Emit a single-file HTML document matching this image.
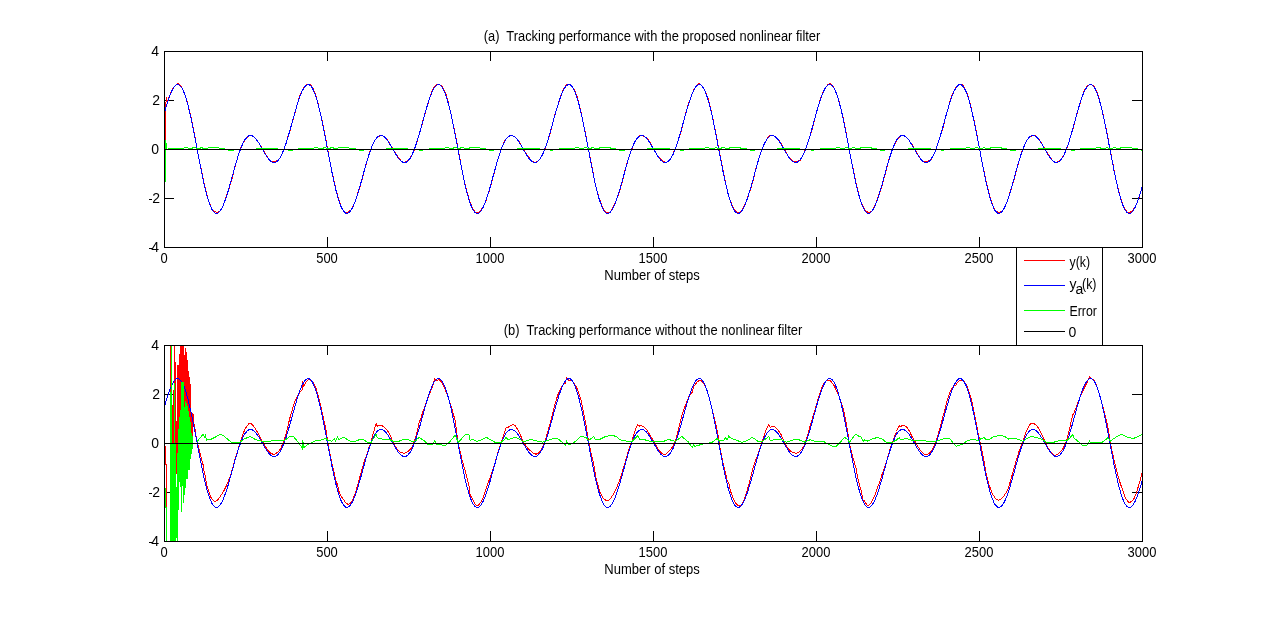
<!DOCTYPE html>
<html><head><meta charset="utf-8"><style>
html,body{margin:0;padding:0;background:#fff;overflow:hidden;}
svg{display:block;}
text{font-family:"Liberation Sans",sans-serif;font-size:14px;fill:#000;white-space:pre;}
svg{will-change:transform;}
</style></head><body>
<svg width="1262" height="620" viewBox="0 0 1262 620">
<rect width="1262" height="620" fill="#fff"/>
<defs>
<clipPath id="ct"><rect x="164" y="51" width="979" height="197"/></clipPath>
<clipPath id="cb"><rect x="164" y="345" width="979" height="197"/></clipPath>
</defs>

<g fill="#000" shape-rendering="crispEdges">
<rect x="164" y="51" width="1" height="10"/><rect x="164" y="237" width="1" height="11"/>
<rect x="327" y="51" width="1" height="10"/><rect x="327" y="237" width="1" height="11"/>
<rect x="490" y="51" width="1" height="10"/><rect x="490" y="237" width="1" height="11"/>
<rect x="653" y="51" width="1" height="10"/><rect x="653" y="237" width="1" height="11"/>
<rect x="816" y="51" width="1" height="10"/><rect x="816" y="237" width="1" height="11"/>
<rect x="979" y="51" width="1" height="10"/><rect x="979" y="237" width="1" height="11"/>
<rect x="1142" y="51" width="1" height="10"/><rect x="1142" y="237" width="1" height="11"/>
<rect x="164" y="51" width="10" height="1"/><rect x="1132" y="51" width="11" height="1"/>
<rect x="164" y="100" width="10" height="1"/><rect x="1132" y="100" width="11" height="1"/>
<rect x="164" y="149" width="10" height="1"/><rect x="1132" y="149" width="11" height="1"/>
<rect x="164" y="198" width="10" height="1"/><rect x="1132" y="198" width="11" height="1"/>
<rect x="164" y="247" width="10" height="1"/><rect x="1132" y="247" width="11" height="1"/>
</g>
<g clip-path="url(#ct)" fill="none" stroke-width="1" shape-rendering="crispEdges">
<g fill="#f00" shape-rendering="crispEdges"><rect x="165" y="102" width="1" height="41"/><rect x="166" y="97" width="1" height="5"/></g>
<path stroke="#f00" d="M165.5 108.8L166.5 105.4L167.4 102.2L168.4 98.8L169.4 96.1L170.4 93.8L171.3 91.6L172.3 89.8L173.3 88.1L174.3 86.7L175.3 85.5L176.2 84.6L177.2 84.0L178.2 83.9L179.2 84.2L180.1 85.0L181.1 86.2L182.1 87.9L183.1 90.0L184.1 92.0L185.0 94.8L186.0 97.8L187.0 101.0L188.0 104.9L188.9 108.6L189.9 112.6L190.9 116.9L191.9 121.5L192.9 126.3L193.8 130.9L194.8 136.1L195.8 141.9L196.8 147.2L197.8 152.4L198.7 157.5L199.7 162.4L200.7 166.8L201.7 171.5L202.6 176.1L203.6 181.0L204.6 185.4L205.6 189.6L206.6 193.6L207.5 197.3L208.5 200.2L209.5 203.1L210.5 205.6L211.4 207.6L212.4 209.3L213.4 210.5L214.4 211.4L215.4 211.9L216.3 212.2L217.3 212.2L218.3 211.9L219.3 211.6L220.2 210.6L221.2 209.2L222.2 207.4L223.2 205.2L224.2 202.6L225.1 200.2L226.1 197.2L227.1 194.1L228.1 190.9L229.0 188.5L230.0 185.2L231.0 181.9L232.0 178.5L233.0 175.1L233.9 170.7L234.9 167.1L235.9 163.6L236.9 160.1L237.8 156.8L238.8 153.6L239.8 150.7L240.8 148.1L241.8 145.8L242.7 143.8L243.7 142.0L244.7 140.4L245.7 139.1L246.7 137.9L247.6 136.8L248.6 136.0L249.6 135.5L250.6 135.2L251.5 135.3L252.5 135.7L253.5 136.4L254.5 137.3L255.5 138.5L256.4 139.4L257.4 140.8L258.4 142.3L259.4 143.8L260.3 145.3L261.3 146.8L262.3 148.3L263.3 149.9L264.3 151.6L265.2 153.3L266.2 155.0L267.2 156.7L268.2 158.2L269.1 159.5L270.1 160.5L271.1 161.3L272.1 161.7L273.1 161.9L274.0 161.9L275.0 161.6L276.0 161.2L277.0 160.6L277.9 160.3L278.9 159.3L279.9 158.0L280.9 156.5L281.9 154.6L282.8 152.3L283.8 149.8L284.8 147.0L285.8 144.0L286.8 140.8L287.7 137.5L288.7 134.2L289.7 131.8L290.7 128.5L291.6 125.1L292.6 120.9L293.6 117.4L294.6 113.9L295.6 110.4L296.5 106.9L297.5 103.5L298.5 100.3L299.5 96.9L300.4 94.3L301.4 91.9L302.4 90.0L303.4 88.3L304.4 87.0L305.3 85.9L306.3 85.1L307.3 84.6L308.3 84.3L309.2 84.4L310.2 84.9L311.2 85.8L312.2 87.1L313.2 88.9L314.1 91.2L315.1 93.5L316.1 96.5L317.1 99.9L318.0 103.5L319.0 107.7L320.0 111.6L321.0 115.8L322.0 120.1L322.9 124.7L323.9 129.1L324.9 134.1L325.9 139.3L326.8 145.0L327.8 150.4L328.8 155.7L329.8 160.9L330.8 165.5L331.7 170.4L332.7 175.0L333.7 179.8L334.7 184.1L335.6 188.1L336.6 192.0L337.6 195.7L338.6 199.1L339.6 201.8L340.5 204.7L341.5 207.1L342.5 209.0L343.5 210.5L344.5 211.5L345.4 212.1L346.4 212.3L347.4 212.2L348.4 211.8L349.3 211.1L350.3 210.6L351.3 209.4L352.3 207.8L353.3 205.9L354.2 203.7L355.2 201.6L356.2 198.7L357.2 195.5L358.1 192.2L359.1 189.6L360.1 186.1L361.1 182.7L362.1 179.2L363.0 175.8L364.0 171.6L365.0 168.2L366.0 164.9L366.9 161.6L367.9 158.3L368.9 155.0L369.9 151.9L370.9 149.1L371.8 146.4L372.8 144.1L373.8 142.2L374.8 140.5L375.7 139.2L376.7 138.1L377.7 137.2L378.7 136.5L379.7 136.0L380.6 135.7L381.6 135.6L382.6 135.7L383.6 136.1L384.6 136.8L385.5 137.7L386.5 139.0L387.5 140.0L388.5 141.6L389.4 143.3L390.4 145.0L391.4 146.6L392.4 148.2L393.4 149.8L394.3 151.3L395.3 152.8L396.3 154.3L397.3 155.8L398.2 157.3L399.2 158.7L400.2 159.9L401.2 161.0L402.2 161.7L403.1 162.2L404.1 162.3L405.1 162.1L406.1 161.7L407.0 161.0L408.0 160.0L409.0 159.4L410.0 158.1L411.0 156.6L411.9 154.9L412.9 153.0L413.9 150.7L414.9 148.2L415.8 145.4L416.8 142.3L417.8 139.0L418.8 135.5L419.8 132.9L420.7 129.4L421.7 125.9L422.7 121.6L423.7 118.2L424.6 114.9L425.6 111.5L426.6 108.2L427.6 105.0L428.6 101.8L429.5 98.2L430.5 95.3L431.5 92.7L432.5 90.4L433.4 88.5L434.4 87.0L435.4 85.8L436.4 85.1L437.4 84.6L438.3 84.5L439.3 84.6L440.3 85.1L441.3 85.8L442.3 86.9L443.2 88.4L444.2 90.3L445.2 92.3L446.2 95.1L447.1 98.3L448.1 101.9L449.1 106.2L450.1 110.4L451.1 114.6L452.0 119.0L453.0 123.6L454.0 127.8L455.0 132.6L455.9 137.5L456.9 143.0L457.9 148.2L458.9 153.5L459.9 158.8L460.8 164.1L461.8 168.7L462.8 173.6L463.8 178.7L464.7 183.1L465.7 187.2L466.7 191.0L467.7 194.5L468.7 197.8L469.6 200.5L470.6 203.4L471.6 205.9L472.6 208.1L473.5 210.0L474.5 211.3L475.5 212.3L476.5 212.7L477.5 212.7L478.4 212.2L479.4 211.5L480.4 210.8L481.4 209.5L482.4 208.0L483.3 206.2L484.3 204.2L485.3 202.3L486.3 199.7L487.2 196.8L488.2 193.7L489.2 191.2L490.2 187.6L491.2 184.0L492.1 180.3L493.1 176.7L494.1 173.2L495.1 168.9L496.0 165.6L497.0 162.4L498.0 159.3L499.0 156.3L500.0 153.3L500.9 150.4L501.9 147.7L502.9 145.1L503.9 142.8L504.8 140.9L505.8 139.3L506.8 138.0L507.8 137.1L508.8 136.5L509.7 136.1L510.7 135.9L511.7 135.9L512.7 136.0L513.6 136.3L514.6 136.8L515.6 137.5L516.6 138.5L517.6 139.2L518.5 140.7L519.5 142.3L520.5 144.1L521.5 145.9L522.4 147.7L523.4 149.5L524.4 151.2L525.4 152.7L526.4 154.1L527.3 155.5L528.3 156.8L529.3 158.0L530.3 159.2L531.2 160.2L532.2 161.1L533.2 161.9L534.2 162.3L535.2 162.4L536.1 162.2L537.1 161.6L538.1 160.7L539.1 160.0L540.1 158.6L541.0 157.0L542.0 155.2L543.0 153.2L544.0 151.1L544.9 148.8L545.9 146.3L546.9 143.4L547.9 140.4L548.9 137.1L549.8 134.5L550.8 130.8L551.8 127.2L552.8 123.5L553.7 119.1L554.7 115.6L555.7 112.2L556.7 109.0L557.7 105.9L558.6 102.9L559.6 99.5L560.6 96.7L561.6 94.0L562.5 91.5L563.5 89.3L564.5 87.4L565.5 86.0L566.5 84.9L567.4 84.3L568.4 84.1L569.4 84.3L570.4 84.9L571.3 85.7L572.3 86.8L573.3 88.3L574.3 90.0L575.3 91.7L576.2 94.1L577.2 97.0L578.2 100.4L579.2 104.5L580.1 108.6L581.1 112.9L582.1 117.5L583.1 122.2L584.1 127.0L585.0 131.4L586.0 136.2L587.0 141.6L588.0 146.6L589.0 151.7L589.9 156.8L590.9 162.0L591.9 166.7L592.9 171.7L593.8 176.6L594.8 181.7L595.8 186.1L596.8 190.1L597.8 193.8L598.7 197.1L599.7 199.7L600.7 202.4L601.7 204.9L602.6 207.1L603.6 209.0L604.6 210.6L605.6 211.8L606.6 212.6L607.5 212.9L608.5 212.8L609.5 212.2L610.5 211.6L611.4 210.2L612.4 208.6L613.4 206.7L614.4 204.5L615.4 202.2L616.3 200.2L617.3 197.6L618.3 194.7L619.3 191.6L620.2 189.1L621.2 185.6L622.2 182.0L623.2 178.2L624.2 174.5L625.1 170.0L626.1 166.5L627.1 163.1L628.1 160.0L629.0 157.0L630.0 154.1L631.0 151.4L632.0 148.8L633.0 146.3L633.9 144.0L634.9 141.8L635.9 140.0L636.9 138.4L637.9 137.2L638.8 136.3L639.8 135.8L640.8 135.6L641.8 135.6L642.7 135.9L643.7 136.4L644.7 136.9L645.7 137.6L646.7 138.5L647.6 139.0L648.6 140.2L649.6 141.6L650.6 143.2L651.5 144.9L652.5 146.7L653.5 148.7L654.5 150.5L655.5 152.3L656.4 154.0L657.4 155.5L658.4 156.8L659.4 157.9L660.3 158.9L661.3 159.8L662.3 160.6L663.3 161.3L664.3 161.8L665.2 162.1L666.2 162.2L667.2 161.9L668.2 161.3L669.1 160.8L670.1 159.5L671.1 157.9L672.1 156.0L673.1 153.9L674.0 151.6L675.0 149.2L676.0 146.7L677.0 144.1L678.0 141.2L678.9 138.2L679.9 135.0L680.9 132.4L681.9 128.8L682.8 125.1L683.8 120.5L684.8 116.8L685.8 113.2L686.8 109.8L687.7 106.5L688.7 103.5L689.7 100.6L690.7 97.5L691.6 95.0L692.6 92.6L693.6 90.4L694.6 88.4L695.6 86.7L696.5 85.3L697.5 84.4L698.5 83.9L699.5 83.8L700.4 84.2L701.4 85.1L702.4 86.3L703.4 87.8L704.4 89.6L705.3 91.7L706.3 93.7L707.3 96.4L708.3 99.4L709.2 102.8L710.2 107.0L711.2 111.1L712.2 115.5L713.2 120.2L714.1 125.1L715.1 129.7L716.1 134.8L717.1 139.9L718.0 145.3L719.0 150.3L720.0 155.3L721.0 160.3L722.0 164.8L722.9 169.7L723.9 174.6L724.9 179.8L725.9 184.4L726.9 188.7L727.8 192.7L728.8 196.3L729.8 199.5L730.8 201.9L731.7 204.4L732.7 206.5L733.7 208.3L734.7 209.8L735.7 211.0L736.6 212.0L737.6 212.5L738.6 212.7L739.6 212.5L740.5 211.8L741.5 211.1L742.5 209.6L743.5 207.7L744.5 205.4L745.4 203.0L746.4 200.8L747.4 198.1L748.4 195.2L749.3 192.3L750.3 190.0L751.3 186.8L752.3 183.4L753.3 179.8L754.2 176.1L755.2 171.5L756.2 167.9L757.2 164.3L758.1 160.8L759.1 157.6L760.1 154.7L761.1 151.9L762.1 149.4L763.0 147.0L764.0 144.9L765.0 142.8L766.0 141.0L766.9 139.3L767.9 137.8L768.9 136.7L769.9 135.8L770.9 135.3L771.8 135.2L772.8 135.4L773.8 135.9L774.8 136.6L775.8 137.5L776.7 138.4L777.7 139.5L778.7 140.2L779.7 141.4L780.6 142.8L781.6 144.3L782.6 145.9L783.6 147.7L784.6 149.5L785.5 151.4L786.5 153.2L787.5 155.0L788.5 156.5L789.4 157.9L790.4 159.0L791.4 159.9L792.4 160.6L793.4 161.1L794.3 161.5L795.3 161.7L796.3 161.8L797.3 161.6L798.2 161.3L799.2 160.6L800.2 160.1L801.2 158.7L802.2 157.0L803.1 155.0L804.1 152.7L805.1 150.2L806.1 147.5L807.0 144.7L808.0 141.8L809.0 138.8L810.0 135.7L811.0 133.4L811.9 130.1L812.9 126.6L813.9 122.1L814.9 118.4L815.8 114.7L816.8 111.1L817.8 107.6L818.8 104.3L819.8 101.2L820.7 98.0L821.7 95.4L822.7 93.1L823.7 91.1L824.6 89.2L825.6 87.6L826.6 86.2L827.6 85.0L828.6 84.2L829.5 83.9L830.5 83.9L831.5 84.4L832.5 85.4L833.5 86.9L834.4 88.7L835.4 90.9L836.4 93.0L837.4 95.7L838.3 98.7L839.3 102.0L840.3 106.0L841.3 109.8L842.3 113.9L843.2 118.4L844.2 123.1L845.2 127.6L846.2 132.8L847.1 138.0L848.1 143.7L849.1 148.9L850.1 154.0L851.1 159.0L852.0 163.9L853.0 168.3L854.0 173.0L855.0 178.0L855.9 182.5L856.9 186.9L857.9 191.1L858.9 194.9L859.9 198.5L860.8 201.2L861.8 204.0L862.8 206.2L863.8 208.1L864.7 209.6L865.7 210.7L866.7 211.5L867.7 212.1L868.7 212.3L869.6 212.2L870.6 211.8L871.6 211.4L872.6 210.2L873.5 208.6L874.5 206.6L875.5 204.2L876.5 202.0L877.5 199.2L878.4 196.1L879.4 193.0L880.4 190.7L881.4 187.5L882.4 184.2L883.3 180.9L884.3 177.4L885.3 173.9L886.3 169.5L887.2 165.9L888.2 162.3L889.2 158.9L890.2 155.6L891.2 152.6L892.1 149.8L893.1 147.4L894.1 145.2L895.1 143.3L896.0 141.5L897.0 140.0L898.0 138.6L899.0 137.4L900.0 136.4L900.9 135.7L901.9 135.3L902.9 135.2L903.9 135.4L904.8 135.9L905.8 136.8L906.8 137.8L907.8 139.0L908.8 139.9L909.7 141.3L910.7 142.7L911.7 144.2L912.7 145.6L913.6 147.2L914.6 148.8L915.6 150.5L916.6 152.2L917.6 154.0L918.5 155.7L919.5 157.3L920.5 158.7L921.5 159.9L922.5 160.7L923.4 161.4L924.4 161.7L925.4 161.8L926.4 161.7L927.3 161.5L928.3 161.1L929.3 160.5L930.3 160.1L931.3 159.0L932.2 157.6L933.2 155.9L934.2 153.8L935.2 151.4L936.1 148.8L937.1 145.9L938.1 142.8L939.1 139.7L940.1 136.5L941.0 134.1L942.0 130.8L943.0 127.5L944.0 124.1L944.9 119.8L945.9 116.2L946.9 112.7L947.9 109.1L948.9 105.6L949.8 102.3L950.8 98.8L951.8 96.0L952.8 93.5L953.7 91.3L954.7 89.5L955.7 87.9L956.7 86.7L957.7 85.6L958.6 84.8L959.6 84.3L960.6 84.2L961.6 84.4L962.5 85.0L963.5 86.1L964.5 87.7L965.5 89.7L966.5 91.8L967.4 94.6L968.4 97.7L969.4 101.1L970.4 105.1L971.4 108.9L972.3 112.9L973.3 117.1L974.3 121.5L975.3 126.2L976.2 130.7L977.2 135.9L978.2 141.6L979.2 146.9L980.2 152.3L981.1 157.5L982.1 162.6L983.1 167.1L984.1 171.8L985.0 176.3L986.0 181.2L987.0 185.4L988.0 189.4L989.0 193.3L989.9 197.0L990.9 199.9L991.9 202.9L992.9 205.6L993.8 207.8L994.8 209.5L995.8 210.8L996.8 211.6L997.8 212.1L998.7 212.2L999.7 212.1L1000.7 211.6L1001.7 211.3L1002.6 210.3L1003.6 209.0L1004.6 207.3L1005.6 205.3L1006.6 202.8L1007.5 200.5L1008.5 197.5L1009.5 194.3L1010.5 190.9L1011.4 188.4L1012.4 185.0L1013.4 181.6L1014.4 178.2L1015.4 174.8L1016.3 170.6L1017.3 167.2L1018.3 163.8L1019.3 160.4L1020.2 157.1L1021.2 153.9L1022.2 150.8L1023.2 148.1L1024.2 145.6L1025.1 143.5L1026.1 141.7L1027.1 140.2L1028.1 138.9L1029.1 137.9L1030.0 137.0L1031.0 136.3L1032.0 135.8L1033.0 135.5L1033.9 135.4L1034.9 135.7L1035.9 136.2L1036.9 137.1L1037.9 138.2L1038.8 139.1L1039.8 140.6L1040.8 142.2L1041.8 143.9L1042.7 145.5L1043.7 147.1L1044.7 148.6L1045.7 150.2L1046.7 151.7L1047.6 153.3L1048.6 154.8L1049.6 156.4L1050.6 157.9L1051.5 159.2L1052.5 160.4L1053.5 161.3L1054.5 161.9L1055.5 162.2L1056.4 162.2L1057.4 161.9L1058.4 161.3L1059.4 160.6L1060.3 160.1L1061.3 159.0L1062.3 157.7L1063.3 156.2L1064.3 154.4L1065.2 152.3L1066.2 149.9L1067.2 147.2L1068.2 144.3L1069.2 141.1L1070.1 137.7L1071.1 134.3L1072.1 131.7L1073.1 128.2L1074.0 124.8L1075.0 120.6L1076.0 117.2L1077.0 113.8L1078.0 110.5L1078.9 107.1L1079.9 103.8L1080.9 100.6L1081.9 97.1L1082.8 94.3L1083.8 91.9L1084.8 89.8L1085.8 88.0L1086.8 86.7L1087.7 85.7L1088.7 85.0L1089.7 84.6L1090.7 84.5L1091.6 84.7L1092.6 85.2L1093.6 86.0L1094.6 87.2L1095.6 88.9L1096.5 91.1L1097.5 93.2L1098.5 96.2L1099.5 99.6L1100.4 103.3L1101.4 107.7L1102.4 111.8L1103.4 116.0L1104.4 120.4L1105.3 125.0L1106.3 129.2L1107.3 134.1L1108.3 139.2L1109.2 144.8L1110.2 150.1L1111.2 155.4L1112.2 160.7L1113.2 165.5L1114.1 170.4L1115.1 175.2L1116.1 180.1L1117.1 184.4L1118.0 188.3L1119.0 192.1L1120.0 195.6L1121.0 198.9L1122.0 201.6L1122.9 204.4L1123.9 206.8L1124.9 208.9L1125.9 210.5L1126.9 211.7L1127.8 212.4L1128.8 212.6L1129.8 212.4L1130.8 211.9L1131.7 211.1L1132.7 210.4L1133.7 209.1L1134.7 207.5L1135.7 205.7L1136.6 203.5L1137.6 201.5L1138.6 198.8L1139.6 195.8L1140.5 192.5L1141.5 189.9L1142.5 186.3"/>
<path stroke="#00f" d="M164.5 112.4L165.5 109.0L166.5 105.7L167.4 102.5L168.4 99.6L169.4 96.8L170.4 94.2L171.3 91.9L172.3 89.9L173.3 88.2L174.3 86.8L175.3 85.7L176.2 85.0L177.2 84.6L178.2 84.6L179.2 85.0L180.1 85.8L181.1 86.9L182.1 88.5L183.1 90.4L184.1 92.7L185.0 95.3L186.0 98.3L187.0 101.6L188.0 105.2L188.9 109.1L189.9 113.3L190.9 117.7L191.9 122.3L192.9 127.0L193.8 132.0L194.8 137.0L195.8 142.1L196.8 147.3L197.8 152.4L198.7 157.6L199.7 162.7L200.7 167.7L201.7 172.6L202.6 177.3L203.6 181.8L204.6 186.1L205.6 190.2L206.6 194.0L207.5 197.5L208.5 200.7L209.5 203.6L210.5 206.1L211.4 208.3L212.4 210.1L213.4 211.5L214.4 212.5L215.4 213.2L216.3 213.4L217.3 213.3L218.3 212.8L219.3 212.0L220.2 210.8L221.2 209.3L222.2 207.5L223.2 205.3L224.2 202.9L225.1 200.3L226.1 197.5L227.1 194.4L228.1 191.2L229.0 187.9L230.0 184.5L231.0 180.9L232.0 177.4L233.0 173.8L233.9 170.3L234.9 166.8L235.9 163.4L236.9 160.1L237.8 156.9L238.8 153.9L239.8 151.1L240.8 148.4L241.8 146.0L242.7 143.8L243.7 141.8L244.7 140.1L245.7 138.7L246.7 137.5L247.6 136.6L248.6 136.0L249.6 135.6L250.6 135.5L251.5 135.6L252.5 136.0L253.5 136.6L254.5 137.4L255.5 138.4L256.4 139.6L257.4 140.9L258.4 142.4L259.4 143.9L260.3 145.6L261.3 147.3L262.3 149.0L263.3 150.7L264.3 152.4L265.2 154.1L266.2 155.6L267.2 157.1L268.2 158.4L269.1 159.6L270.1 160.6L271.1 161.4L272.1 162.0L273.1 162.4L274.0 162.5L275.0 162.4L276.0 162.0L277.0 161.4L277.9 160.5L278.9 159.3L279.9 157.9L280.9 156.2L281.9 154.2L282.8 152.0L283.8 149.6L284.8 146.9L285.8 144.1L286.8 141.1L287.7 137.9L288.7 134.6L289.7 131.2L290.7 127.7L291.6 124.2L292.6 120.6L293.6 117.1L294.6 113.5L295.6 110.1L296.5 106.8L297.5 103.6L298.5 100.5L299.5 97.7L300.4 95.1L301.4 92.7L302.4 90.5L303.4 88.7L304.4 87.2L305.3 86.0L306.3 85.2L307.3 84.7L308.3 84.6L309.2 84.8L310.2 85.5L311.2 86.5L312.2 87.9L313.2 89.7L314.1 91.9L315.1 94.4L316.1 97.3L317.1 100.5L318.0 104.0L319.0 107.8L320.0 111.9L321.0 116.2L322.0 120.7L322.9 125.4L323.9 130.3L324.9 135.3L325.9 140.4L326.8 145.6L327.8 150.7L328.8 155.9L329.8 161.0L330.8 166.0L331.7 171.0L332.7 175.7L333.7 180.3L334.7 184.7L335.6 188.9L336.6 192.8L337.6 196.4L338.6 199.7L339.6 202.7L340.5 205.3L341.5 207.6L342.5 209.5L343.5 211.1L344.5 212.2L345.4 213.0L346.4 213.4L347.4 213.4L348.4 213.0L349.3 212.3L350.3 211.2L351.3 209.8L352.3 208.1L353.3 206.1L354.2 203.8L355.2 201.2L356.2 198.4L357.2 195.5L358.1 192.3L359.1 189.0L360.1 185.6L361.1 182.1L362.1 178.6L363.0 175.0L364.0 171.5L365.0 168.0L366.0 164.5L366.9 161.2L367.9 158.0L368.9 154.9L369.9 152.0L370.9 149.3L371.8 146.8L372.8 144.5L373.8 142.5L374.8 140.7L375.7 139.2L376.7 137.9L377.7 136.9L378.7 136.2L379.7 135.7L380.6 135.5L381.6 135.6L382.6 135.9L383.6 136.4L384.6 137.1L385.5 138.1L386.5 139.2L387.5 140.5L388.5 141.9L389.4 143.4L390.4 145.0L391.4 146.7L392.4 148.4L393.4 150.1L394.3 151.9L395.3 153.5L396.3 155.1L397.3 156.6L398.2 158.0L399.2 159.2L400.2 160.3L401.2 161.1L402.2 161.8L403.1 162.3L404.1 162.5L405.1 162.5L406.1 162.2L407.0 161.6L408.0 160.8L409.0 159.7L410.0 158.4L411.0 156.8L411.9 154.9L412.9 152.8L413.9 150.4L414.9 147.8L415.8 145.1L416.8 142.1L417.8 139.0L418.8 135.7L419.8 132.3L420.7 128.9L421.7 125.3L422.7 121.8L423.7 118.2L424.6 114.7L425.6 111.2L426.6 107.9L427.6 104.6L428.6 101.5L429.5 98.6L430.5 95.9L431.5 93.4L432.5 91.2L433.4 89.3L434.4 87.7L435.4 86.4L436.4 85.4L437.4 84.8L438.3 84.6L439.3 84.7L440.3 85.2L441.3 86.1L442.3 87.4L443.2 89.1L444.2 91.1L445.2 93.5L446.2 96.3L447.1 99.4L448.1 102.8L449.1 106.5L450.1 110.5L451.1 114.7L452.0 119.2L453.0 123.8L454.0 128.7L455.0 133.6L455.9 138.7L456.9 143.8L457.9 149.0L458.9 154.2L459.9 159.3L460.8 164.4L461.8 169.3L462.8 174.2L463.8 178.8L464.7 183.3L465.7 187.5L466.7 191.5L467.7 195.2L468.7 198.6L469.6 201.7L470.6 204.5L471.6 206.9L472.6 208.9L473.5 210.6L474.5 211.9L475.5 212.8L476.5 213.3L477.5 213.4L478.4 213.2L479.4 212.6L480.4 211.6L481.4 210.3L482.4 208.7L483.3 206.8L484.3 204.6L485.3 202.1L486.3 199.4L487.2 196.5L488.2 193.4L489.2 190.1L490.2 186.8L491.2 183.3L492.1 179.8L493.1 176.2L494.1 172.7L495.1 169.1L496.0 165.7L497.0 162.3L498.0 159.0L499.0 155.9L500.0 152.9L500.9 150.2L501.9 147.6L502.9 145.2L503.9 143.1L504.8 141.2L505.8 139.6L506.8 138.3L507.8 137.2L508.8 136.4L509.7 135.8L510.7 135.5L511.7 135.5L512.7 135.7L513.6 136.2L514.6 136.9L515.6 137.7L516.6 138.8L517.6 140.0L518.5 141.4L519.5 142.9L520.5 144.5L521.5 146.1L522.4 147.9L523.4 149.6L524.4 151.3L525.4 153.0L526.4 154.6L527.3 156.1L528.3 157.5L529.3 158.8L530.3 159.9L531.2 160.9L532.2 161.6L533.2 162.1L534.2 162.4L535.2 162.5L536.1 162.3L537.1 161.8L538.1 161.1L539.1 160.1L540.1 158.8L541.0 157.3L542.0 155.5L543.0 153.5L544.0 151.2L544.9 148.7L545.9 146.0L546.9 143.1L547.9 140.0L548.9 136.8L549.8 133.5L550.8 130.0L551.8 126.5L552.8 123.0L553.7 119.4L554.7 115.9L555.7 112.4L556.7 109.0L557.7 105.7L558.6 102.5L559.6 99.6L560.6 96.8L561.6 94.2L562.5 91.9L563.5 89.9L564.5 88.2L565.5 86.8L566.5 85.7L567.4 85.0L568.4 84.6L569.4 84.6L570.4 85.0L571.3 85.8L572.3 86.9L573.3 88.5L574.3 90.4L575.3 92.7L576.2 95.3L577.2 98.3L578.2 101.6L579.2 105.2L580.1 109.1L581.1 113.3L582.1 117.7L583.1 122.3L584.1 127.0L585.0 132.0L586.0 137.0L587.0 142.1L588.0 147.3L589.0 152.4L589.9 157.6L590.9 162.7L591.9 167.7L592.9 172.6L593.8 177.3L594.8 181.8L595.8 186.1L596.8 190.2L597.8 194.0L598.7 197.5L599.7 200.7L600.7 203.6L601.7 206.1L602.6 208.3L603.6 210.1L604.6 211.5L605.6 212.5L606.6 213.2L607.5 213.4L608.5 213.3L609.5 212.8L610.5 212.0L611.4 210.8L612.4 209.3L613.4 207.5L614.4 205.3L615.4 202.9L616.3 200.3L617.3 197.5L618.3 194.4L619.3 191.2L620.2 187.9L621.2 184.5L622.2 180.9L623.2 177.4L624.2 173.8L625.1 170.3L626.1 166.8L627.1 163.4L628.1 160.1L629.0 156.9L630.0 153.9L631.0 151.1L632.0 148.4L633.0 146.0L633.9 143.8L634.9 141.8L635.9 140.1L636.9 138.7L637.9 137.5L638.8 136.6L639.8 136.0L640.8 135.6L641.8 135.5L642.7 135.6L643.7 136.0L644.7 136.6L645.7 137.4L646.7 138.4L647.6 139.6L648.6 140.9L649.6 142.4L650.6 143.9L651.5 145.6L652.5 147.3L653.5 149.0L654.5 150.7L655.5 152.4L656.4 154.1L657.4 155.6L658.4 157.1L659.4 158.4L660.3 159.6L661.3 160.6L662.3 161.4L663.3 162.0L664.3 162.4L665.2 162.5L666.2 162.4L667.2 162.0L668.2 161.4L669.1 160.5L670.1 159.3L671.1 157.9L672.1 156.2L673.1 154.2L674.0 152.0L675.0 149.6L676.0 146.9L677.0 144.1L678.0 141.1L678.9 137.9L679.9 134.6L680.9 131.2L681.9 127.7L682.8 124.2L683.8 120.6L684.8 117.1L685.8 113.5L686.8 110.1L687.7 106.8L688.7 103.6L689.7 100.5L690.7 97.7L691.6 95.1L692.6 92.7L693.6 90.5L694.6 88.7L695.6 87.2L696.5 86.0L697.5 85.2L698.5 84.7L699.5 84.6L700.4 84.8L701.4 85.5L702.4 86.5L703.4 87.9L704.4 89.7L705.3 91.9L706.3 94.4L707.3 97.3L708.3 100.5L709.2 104.0L710.2 107.8L711.2 111.9L712.2 116.2L713.2 120.7L714.1 125.4L715.1 130.3L716.1 135.3L717.1 140.4L718.0 145.6L719.0 150.7L720.0 155.9L721.0 161.0L722.0 166.0L722.9 171.0L723.9 175.7L724.9 180.3L725.9 184.7L726.9 188.9L727.8 192.8L728.8 196.4L729.8 199.7L730.8 202.7L731.7 205.3L732.7 207.6L733.7 209.5L734.7 211.1L735.7 212.2L736.6 213.0L737.6 213.4L738.6 213.4L739.6 213.0L740.5 212.3L741.5 211.2L742.5 209.8L743.5 208.1L744.5 206.1L745.4 203.8L746.4 201.2L747.4 198.4L748.4 195.5L749.3 192.3L750.3 189.0L751.3 185.6L752.3 182.1L753.3 178.6L754.2 175.0L755.2 171.5L756.2 168.0L757.2 164.5L758.1 161.2L759.1 158.0L760.1 154.9L761.1 152.0L762.1 149.3L763.0 146.8L764.0 144.5L765.0 142.5L766.0 140.7L766.9 139.2L767.9 137.9L768.9 136.9L769.9 136.2L770.9 135.7L771.8 135.5L772.8 135.6L773.8 135.9L774.8 136.4L775.8 137.1L776.7 138.1L777.7 139.2L778.7 140.5L779.7 141.9L780.6 143.4L781.6 145.0L782.6 146.7L783.6 148.4L784.6 150.1L785.5 151.9L786.5 153.5L787.5 155.1L788.5 156.6L789.4 158.0L790.4 159.2L791.4 160.3L792.4 161.1L793.4 161.8L794.3 162.3L795.3 162.5L796.3 162.5L797.3 162.2L798.2 161.6L799.2 160.8L800.2 159.7L801.2 158.4L802.2 156.8L803.1 154.9L804.1 152.8L805.1 150.4L806.1 147.8L807.0 145.1L808.0 142.1L809.0 139.0L810.0 135.7L811.0 132.3L811.9 128.9L812.9 125.3L813.9 121.8L814.9 118.2L815.8 114.7L816.8 111.2L817.8 107.9L818.8 104.6L819.8 101.5L820.7 98.6L821.7 95.9L822.7 93.4L823.7 91.2L824.6 89.3L825.6 87.7L826.6 86.4L827.6 85.4L828.6 84.8L829.5 84.6L830.5 84.7L831.5 85.2L832.5 86.1L833.5 87.4L834.4 89.1L835.4 91.1L836.4 93.5L837.4 96.3L838.3 99.4L839.3 102.8L840.3 106.5L841.3 110.5L842.3 114.7L843.2 119.2L844.2 123.8L845.2 128.7L846.2 133.6L847.1 138.7L848.1 143.8L849.1 149.0L850.1 154.2L851.1 159.3L852.0 164.4L853.0 169.3L854.0 174.2L855.0 178.8L855.9 183.3L856.9 187.5L857.9 191.5L858.9 195.2L859.9 198.6L860.8 201.7L861.8 204.5L862.8 206.9L863.8 208.9L864.7 210.6L865.7 211.9L866.7 212.8L867.7 213.3L868.7 213.4L869.6 213.2L870.6 212.6L871.6 211.6L872.6 210.3L873.5 208.7L874.5 206.8L875.5 204.6L876.5 202.1L877.5 199.4L878.4 196.5L879.4 193.4L880.4 190.1L881.4 186.8L882.4 183.3L883.3 179.8L884.3 176.2L885.3 172.7L886.3 169.1L887.2 165.7L888.2 162.3L889.2 159.0L890.2 155.9L891.2 152.9L892.1 150.2L893.1 147.6L894.1 145.2L895.1 143.1L896.0 141.2L897.0 139.6L898.0 138.3L899.0 137.2L900.0 136.4L900.9 135.8L901.9 135.5L902.9 135.5L903.9 135.7L904.8 136.2L905.8 136.9L906.8 137.7L907.8 138.8L908.8 140.0L909.7 141.4L910.7 142.9L911.7 144.5L912.7 146.1L913.6 147.9L914.6 149.6L915.6 151.3L916.6 153.0L917.6 154.6L918.5 156.1L919.5 157.5L920.5 158.8L921.5 159.9L922.5 160.9L923.4 161.6L924.4 162.1L925.4 162.4L926.4 162.5L927.3 162.3L928.3 161.8L929.3 161.1L930.3 160.1L931.3 158.8L932.2 157.3L933.2 155.5L934.2 153.5L935.2 151.2L936.1 148.7L937.1 146.0L938.1 143.1L939.1 140.0L940.1 136.8L941.0 133.5L942.0 130.0L943.0 126.5L944.0 123.0L944.9 119.4L945.9 115.9L946.9 112.4L947.9 109.0L948.9 105.7L949.8 102.5L950.8 99.6L951.8 96.8L952.8 94.2L953.7 91.9L954.7 89.9L955.7 88.2L956.7 86.8L957.7 85.7L958.6 85.0L959.6 84.6L960.6 84.6L961.6 85.0L962.5 85.8L963.5 86.9L964.5 88.5L965.5 90.4L966.5 92.7L967.4 95.3L968.4 98.3L969.4 101.6L970.4 105.2L971.4 109.1L972.3 113.3L973.3 117.7L974.3 122.3L975.3 127.0L976.2 132.0L977.2 137.0L978.2 142.1L979.2 147.3L980.2 152.4L981.1 157.6L982.1 162.7L983.1 167.7L984.1 172.6L985.0 177.3L986.0 181.8L987.0 186.1L988.0 190.2L989.0 194.0L989.9 197.5L990.9 200.7L991.9 203.6L992.9 206.1L993.8 208.3L994.8 210.1L995.8 211.5L996.8 212.5L997.8 213.2L998.7 213.4L999.7 213.3L1000.7 212.8L1001.7 212.0L1002.6 210.8L1003.6 209.3L1004.6 207.5L1005.6 205.3L1006.6 202.9L1007.5 200.3L1008.5 197.5L1009.5 194.4L1010.5 191.2L1011.4 187.9L1012.4 184.5L1013.4 180.9L1014.4 177.4L1015.4 173.8L1016.3 170.3L1017.3 166.8L1018.3 163.4L1019.3 160.1L1020.2 156.9L1021.2 153.9L1022.2 151.1L1023.2 148.4L1024.2 146.0L1025.1 143.8L1026.1 141.8L1027.1 140.1L1028.1 138.7L1029.1 137.5L1030.0 136.6L1031.0 136.0L1032.0 135.6L1033.0 135.5L1033.9 135.6L1034.9 136.0L1035.9 136.6L1036.9 137.4L1037.9 138.4L1038.8 139.6L1039.8 140.9L1040.8 142.4L1041.8 143.9L1042.7 145.6L1043.7 147.3L1044.7 149.0L1045.7 150.7L1046.7 152.4L1047.6 154.1L1048.6 155.6L1049.6 157.1L1050.6 158.4L1051.5 159.6L1052.5 160.6L1053.5 161.4L1054.5 162.0L1055.5 162.4L1056.4 162.5L1057.4 162.4L1058.4 162.0L1059.4 161.4L1060.3 160.5L1061.3 159.3L1062.3 157.9L1063.3 156.2L1064.3 154.2L1065.2 152.0L1066.2 149.6L1067.2 146.9L1068.2 144.1L1069.2 141.1L1070.1 137.9L1071.1 134.6L1072.1 131.2L1073.1 127.7L1074.0 124.2L1075.0 120.6L1076.0 117.1L1077.0 113.5L1078.0 110.1L1078.9 106.8L1079.9 103.6L1080.9 100.5L1081.9 97.7L1082.8 95.1L1083.8 92.7L1084.8 90.5L1085.8 88.7L1086.8 87.2L1087.7 86.0L1088.7 85.2L1089.7 84.7L1090.7 84.6L1091.6 84.8L1092.6 85.5L1093.6 86.5L1094.6 87.9L1095.6 89.7L1096.5 91.9L1097.5 94.4L1098.5 97.3L1099.5 100.5L1100.4 104.0L1101.4 107.8L1102.4 111.9L1103.4 116.2L1104.4 120.7L1105.3 125.4L1106.3 130.3L1107.3 135.3L1108.3 140.4L1109.2 145.6L1110.2 150.7L1111.2 155.9L1112.2 161.0L1113.2 166.0L1114.1 171.0L1115.1 175.7L1116.1 180.3L1117.1 184.7L1118.0 188.9L1119.0 192.8L1120.0 196.4L1121.0 199.7L1122.0 202.7L1122.9 205.3L1123.9 207.6L1124.9 209.5L1125.9 211.1L1126.9 212.2L1127.8 213.0L1128.8 213.4L1129.8 213.4L1130.8 213.0L1131.7 212.3L1132.7 211.2L1133.7 209.8L1134.7 208.1L1135.7 206.1L1136.6 203.8L1137.6 201.2L1138.6 198.4L1139.6 195.5L1140.5 192.3L1141.5 189.0L1142.5 185.6"/>
<g fill="#0f0" shape-rendering="crispEdges"><rect x="164" y="140" width="1" height="42"/><rect x="165" y="140" width="1" height="42"/><rect x="166" y="143" width="1" height="6"/></g>
<path stroke="#0f0" d="M165.8 149.0L166.8 149.0L167.8 149.0L168.7 148.3L169.7 148.3L170.7 148.3L171.7 148.3L172.7 148.3L173.6 148.3L174.6 148.3L175.6 148.3L176.6 148.3L177.5 148.3L178.5 148.3L179.5 148.3L180.5 148.3L181.5 148.3L182.4 148.3L183.4 148.3L184.4 147.5L185.4 147.5L186.3 147.5L187.3 147.5L188.3 148.3L189.3 148.3L190.3 148.3L191.2 148.3L192.2 148.3L193.2 147.5L194.2 147.5L195.1 147.5L196.1 148.3L197.1 148.3L198.1 148.3L199.1 148.3L200.0 148.3L201.0 147.5L202.0 147.5L203.0 148.3L203.9 148.3L204.9 148.3L205.9 148.3L206.9 148.3L207.9 148.3L208.8 147.5L209.8 147.5L210.8 147.5L211.8 147.5L212.7 147.5L213.7 147.5L214.7 147.5L215.7 147.5L216.7 147.5L217.6 147.5L218.6 147.5L219.6 148.3L220.6 148.3L221.6 148.3L222.5 148.3L223.5 148.3L224.5 149.0L225.5 149.0L226.4 149.0L227.4 149.0L228.4 150.5L229.4 150.5L230.4 150.5L231.3 150.5L232.3 150.5L233.3 150.5L234.3 149.0L235.2 149.0L236.2 149.0L237.2 149.0L238.2 149.0L239.2 149.0L240.1 149.0L241.1 149.0L242.1 149.0L243.1 149.0L244.0 149.0L245.0 149.0L246.0 149.0L247.0 149.0L248.0 149.0L248.9 149.0L249.9 149.0L250.9 149.0L251.9 149.0L252.8 149.0L253.8 149.0L254.8 149.0L255.8 149.0L256.8 148.3L257.7 148.3L258.7 148.3L259.7 148.3L260.7 148.3L261.6 148.3L262.6 148.3L263.6 148.3L264.6 148.3L265.6 148.3L266.5 148.3L267.5 148.3L268.5 148.3L269.5 148.3L270.4 148.3L271.4 148.3L272.4 148.3L273.4 148.3L274.4 148.3L275.3 148.3L276.3 148.3L277.3 148.3L278.3 149.0L279.3 149.0L280.2 149.0L281.2 149.0L282.2 149.0L283.2 149.0L284.1 149.0L285.1 149.0L286.1 149.0L287.1 149.0L288.1 149.0L289.0 150.5L290.0 150.5L291.0 150.5L292.0 150.5L292.9 149.0L293.9 149.0L294.9 149.0L295.9 149.0L296.9 149.0L297.8 149.0L298.8 148.3L299.8 148.3L300.8 148.3L301.7 148.3L302.7 148.3L303.7 148.3L304.7 148.3L305.7 148.3L306.6 148.3L307.6 148.3L308.6 148.3L309.6 148.3L310.5 148.3L311.5 148.3L312.5 148.3L313.5 148.3L314.5 147.5L315.4 147.5L316.4 147.5L317.4 147.5L318.4 148.3L319.4 148.3L320.3 148.3L321.3 148.3L322.3 148.3L323.3 148.3L324.2 147.5L325.2 147.5L326.2 148.3L327.2 148.3L328.2 148.3L329.1 148.3L330.1 148.3L331.1 147.5L332.1 147.5L333.0 147.5L334.0 148.3L335.0 148.3L336.0 148.3L337.0 148.3L337.9 148.3L338.9 147.5L339.9 147.5L340.9 147.5L341.8 147.5L342.8 147.5L343.8 147.5L344.8 147.5L345.8 147.5L346.7 147.5L347.7 147.5L348.7 147.5L349.7 148.3L350.6 148.3L351.6 148.3L352.6 148.3L353.6 148.3L354.6 148.3L355.5 149.0L356.5 149.0L357.5 149.0L358.5 149.0L359.4 150.5L360.4 150.5L361.4 150.5L362.4 150.5L363.4 150.5L364.3 149.0L365.3 149.0L366.3 149.0L367.3 149.0L368.2 149.0L369.2 149.0L370.2 149.0L371.2 149.0L372.2 149.0L373.1 149.0L374.1 149.0L375.1 149.0L376.1 149.0L377.1 149.0L378.0 149.0L379.0 149.0L380.0 149.0L381.0 149.0L381.9 149.0L382.9 149.0L383.9 149.0L384.9 149.0L385.9 149.0L386.8 148.3L387.8 148.3L388.8 148.3L389.8 148.3L390.7 148.3L391.7 148.3L392.7 148.3L393.7 148.3L394.7 148.3L395.6 148.3L396.6 148.3L397.6 148.3L398.6 148.3L399.5 148.3L400.5 148.3L401.5 148.3L402.5 148.3L403.5 148.3L404.4 148.3L405.4 148.3L406.4 148.3L407.4 148.3L408.3 149.0L409.3 149.0L410.3 149.0L411.3 149.0L412.3 149.0L413.2 149.0L414.2 149.0L415.2 149.0L416.2 149.0L417.1 149.0L418.1 149.0L419.1 149.0L420.1 150.5L421.1 150.5L422.0 150.5L423.0 149.0L424.0 149.0L425.0 149.0L426.0 149.0L426.9 149.0L427.9 149.0L428.9 149.0L429.9 148.3L430.8 148.3L431.8 148.3L432.8 148.3L433.8 148.3L434.8 148.3L435.7 148.3L436.7 148.3L437.7 148.3L438.7 148.3L439.6 148.3L440.6 148.3L441.6 148.3L442.6 148.3L443.6 148.3L444.5 148.3L445.5 147.5L446.5 147.5L447.5 147.5L448.4 147.5L449.4 148.3L450.4 148.3L451.4 148.3L452.4 148.3L453.3 148.3L454.3 147.5L455.3 147.5L456.3 147.5L457.2 148.3L458.2 148.3L459.2 148.3L460.2 148.3L461.2 147.5L462.1 147.5L463.1 147.5L464.1 148.3L465.1 148.3L466.1 148.3L467.0 148.3L468.0 148.3L469.0 148.3L470.0 147.5L470.9 147.5L471.9 147.5L472.9 147.5L473.9 147.5L474.9 147.5L475.8 147.5L476.8 147.5L477.8 147.5L478.8 147.5L479.7 147.5L480.7 148.3L481.7 148.3L482.7 148.3L483.7 148.3L484.6 148.3L485.6 149.0L486.6 149.0L487.6 149.0L488.5 149.0L489.5 150.5L490.5 150.5L491.5 150.5L492.5 150.5L493.4 150.5L494.4 149.0L495.4 149.0L496.4 149.0L497.3 149.0L498.3 149.0L499.3 149.0L500.3 149.0L501.3 149.0L502.2 149.0L503.2 149.0L504.2 149.0L505.2 149.0L506.1 149.0L507.1 149.0L508.1 149.0L509.1 149.0L510.1 149.0L511.0 149.0L512.0 149.0L513.0 149.0L514.0 149.0L515.0 149.0L515.9 149.0L516.9 149.0L517.9 148.3L518.9 148.3L519.8 148.3L520.8 148.3L521.8 148.3L522.8 148.3L523.8 148.3L524.7 148.3L525.7 148.3L526.7 148.3L527.7 148.3L528.6 148.3L529.6 148.3L530.6 148.3L531.6 148.3L532.6 148.3L533.5 148.3L534.5 148.3L535.5 148.3L536.5 148.3L537.4 148.3L538.4 148.3L539.4 149.0L540.4 149.0L541.4 149.0L542.3 149.0L543.3 149.0L544.3 149.0L545.3 149.0L546.2 149.0L547.2 149.0L548.2 149.0L549.2 149.0L550.2 150.5L551.1 150.5L552.1 150.5L553.1 149.0L554.1 149.0L555.0 149.0L556.0 149.0L557.0 149.0L558.0 149.0L559.0 149.0L559.9 148.3L560.9 148.3L561.9 148.3L562.9 148.3L563.9 148.3L564.8 148.3L565.8 148.3L566.8 148.3L567.8 148.3L568.7 148.3L569.7 148.3L570.7 148.3L571.7 148.3L572.7 148.3L573.6 148.3L574.6 148.3L575.6 147.5L576.6 147.5L577.5 147.5L578.5 147.5L579.5 148.3L580.5 148.3L581.5 148.3L582.4 148.3L583.4 148.3L584.4 147.5L585.4 147.5L586.3 147.5L587.3 148.3L588.3 148.3L589.3 148.3L590.3 148.3L591.2 148.3L592.2 147.5L593.2 147.5L594.2 148.3L595.1 148.3L596.1 148.3L597.1 148.3L598.1 148.3L599.1 148.3L600.0 147.5L601.0 147.5L602.0 147.5L603.0 147.5L603.9 147.5L604.9 147.5L605.9 147.5L606.9 147.5L607.9 147.5L608.8 147.5L609.8 147.5L610.8 148.3L611.8 148.3L612.8 148.3L613.7 148.3L614.7 148.3L615.7 149.0L616.7 149.0L617.6 149.0L618.6 149.0L619.6 150.5L620.6 150.5L621.6 150.5L622.5 150.5L623.5 150.5L624.5 150.5L625.5 149.0L626.4 149.0L627.4 149.0L628.4 149.0L629.4 149.0L630.4 149.0L631.3 149.0L632.3 149.0L633.3 149.0L634.3 149.0L635.2 149.0L636.2 149.0L637.2 149.0L638.2 149.0L639.2 149.0L640.1 149.0L641.1 149.0L642.1 149.0L643.1 149.0L644.0 149.0L645.0 149.0L646.0 149.0L647.0 149.0L648.0 148.3L648.9 148.3L649.9 148.3L650.9 148.3L651.9 148.3L652.8 148.3L653.8 148.3L654.8 148.3L655.8 148.3L656.8 148.3L657.7 148.3L658.7 148.3L659.7 148.3L660.7 148.3L661.6 148.3L662.6 148.3L663.6 148.3L664.6 148.3L665.6 148.3L666.5 148.3L667.5 148.3L668.5 148.3L669.5 149.0L670.5 149.0L671.4 149.0L672.4 149.0L673.4 149.0L674.4 149.0L675.3 149.0L676.3 149.0L677.3 149.0L678.3 149.0L679.3 149.0L680.2 150.5L681.2 150.5L682.2 150.5L683.2 150.5L684.1 149.0L685.1 149.0L686.1 149.0L687.1 149.0L688.1 149.0L689.0 149.0L690.0 148.3L691.0 148.3L692.0 148.3L692.9 148.3L693.9 148.3L694.9 148.3L695.9 148.3L696.9 148.3L697.8 148.3L698.8 148.3L699.8 148.3L700.8 148.3L701.7 148.3L702.7 148.3L703.7 148.3L704.7 148.3L705.7 147.5L706.6 147.5L707.6 147.5L708.6 147.5L709.6 148.3L710.5 148.3L711.5 148.3L712.5 148.3L713.5 148.3L714.5 148.3L715.4 147.5L716.4 147.5L717.4 148.3L718.4 148.3L719.4 148.3L720.3 148.3L721.3 148.3L722.3 147.5L723.3 147.5L724.2 147.5L725.2 148.3L726.2 148.3L727.2 148.3L728.2 148.3L729.1 148.3L730.1 147.5L731.1 147.5L732.1 147.5L733.0 147.5L734.0 147.5L735.0 147.5L736.0 147.5L737.0 147.5L737.9 147.5L738.9 147.5L739.9 147.5L740.9 148.3L741.8 148.3L742.8 148.3L743.8 148.3L744.8 148.3L745.8 148.3L746.7 149.0L747.7 149.0L748.7 149.0L749.7 149.0L750.6 150.5L751.6 150.5L752.6 150.5L753.6 150.5L754.6 150.5L755.5 149.0L756.5 149.0L757.5 149.0L758.5 149.0L759.5 149.0L760.4 149.0L761.4 149.0L762.4 149.0L763.4 149.0L764.3 149.0L765.3 149.0L766.3 149.0L767.3 149.0L768.3 149.0L769.2 149.0L770.2 149.0L771.2 149.0L772.2 149.0L773.1 149.0L774.1 149.0L775.1 149.0L776.1 149.0L777.1 149.0L778.0 148.3L779.0 148.3L780.0 148.3L781.0 148.3L781.9 148.3L782.9 148.3L783.9 148.3L784.9 148.3L785.9 148.3L786.8 148.3L787.8 148.3L788.8 148.3L789.8 148.3L790.7 148.3L791.7 148.3L792.7 148.3L793.7 148.3L794.7 148.3L795.6 148.3L796.6 148.3L797.6 148.3L798.6 148.3L799.5 149.0L800.5 149.0L801.5 149.0L802.5 149.0L803.5 149.0L804.4 149.0L805.4 149.0L806.4 149.0L807.4 149.0L808.4 149.0L809.3 149.0L810.3 149.0L811.3 150.5L812.3 150.5L813.2 150.5L814.2 149.0L815.2 149.0L816.2 149.0L817.2 149.0L818.1 149.0L819.1 149.0L820.1 149.0L821.1 148.3L822.0 148.3L823.0 148.3L824.0 148.3L825.0 148.3L826.0 148.3L826.9 148.3L827.9 148.3L828.9 148.3L829.9 148.3L830.8 148.3L831.8 148.3L832.8 148.3L833.8 148.3L834.8 148.3L835.7 148.3L836.7 147.5L837.7 147.5L838.7 147.5L839.6 147.5L840.6 148.3L841.6 148.3L842.6 148.3L843.6 148.3L844.5 148.3L845.5 147.5L846.5 147.5L847.5 147.5L848.4 148.3L849.4 148.3L850.4 148.3L851.4 148.3L852.4 147.5L853.3 147.5L854.3 147.5L855.3 148.3L856.3 148.3L857.2 148.3L858.2 148.3L859.2 148.3L860.2 148.3L861.2 147.5L862.1 147.5L863.1 147.5L864.1 147.5L865.1 147.5L866.1 147.5L867.0 147.5L868.0 147.5L869.0 147.5L870.0 147.5L870.9 147.5L871.9 148.3L872.9 148.3L873.9 148.3L874.9 148.3L875.8 148.3L876.8 149.0L877.8 149.0L878.8 149.0L879.7 149.0L880.7 150.5L881.7 150.5L882.7 150.5L883.7 150.5L884.6 150.5L885.6 149.0L886.6 149.0L887.6 149.0L888.5 149.0L889.5 149.0L890.5 149.0L891.5 149.0L892.5 149.0L893.4 149.0L894.4 149.0L895.4 149.0L896.4 149.0L897.3 149.0L898.3 149.0L899.3 149.0L900.3 149.0L901.3 149.0L902.2 149.0L903.2 149.0L904.2 149.0L905.2 149.0L906.1 149.0L907.1 149.0L908.1 149.0L909.1 148.3L910.1 148.3L911.0 148.3L912.0 148.3L913.0 148.3L914.0 148.3L915.0 148.3L915.9 148.3L916.9 148.3L917.9 148.3L918.9 148.3L919.8 148.3L920.8 148.3L921.8 148.3L922.8 148.3L923.8 148.3L924.7 148.3L925.7 148.3L926.7 148.3L927.7 148.3L928.6 148.3L929.6 148.3L930.6 149.0L931.6 149.0L932.6 149.0L933.5 149.0L934.5 149.0L935.5 149.0L936.5 149.0L937.4 149.0L938.4 149.0L939.4 149.0L940.4 149.0L941.4 150.5L942.3 150.5L943.3 150.5L944.3 149.0L945.3 149.0L946.2 149.0L947.2 149.0L948.2 149.0L949.2 149.0L950.2 149.0L951.1 148.3L952.1 148.3L953.1 148.3L954.1 148.3L955.0 148.3L956.0 148.3L957.0 148.3L958.0 148.3L959.0 148.3L959.9 148.3L960.9 148.3L961.9 148.3L962.9 148.3L963.9 148.3L964.8 148.3L965.8 148.3L966.8 147.5L967.8 147.5L968.7 147.5L969.7 147.5L970.7 148.3L971.7 148.3L972.7 148.3L973.6 148.3L974.6 148.3L975.6 147.5L976.6 147.5L977.5 147.5L978.5 148.3L979.5 148.3L980.5 148.3L981.5 148.3L982.4 148.3L983.4 147.5L984.4 147.5L985.4 148.3L986.3 148.3L987.3 148.3L988.3 148.3L989.3 148.3L990.3 148.3L991.2 147.5L992.2 147.5L993.2 147.5L994.2 147.5L995.1 147.5L996.1 147.5L997.1 147.5L998.1 147.5L999.1 147.5L1000.0 147.5L1001.0 147.5L1002.0 148.3L1003.0 148.3L1004.0 148.3L1004.9 148.3L1005.9 148.3L1006.9 149.0L1007.9 149.0L1008.8 149.0L1009.8 149.0L1010.8 150.5L1011.8 150.5L1012.8 150.5L1013.7 150.5L1014.7 150.5L1015.7 150.5L1016.7 149.0L1017.6 149.0L1018.6 149.0L1019.6 149.0L1020.6 149.0L1021.6 149.0L1022.5 149.0L1023.5 149.0L1024.5 149.0L1025.5 149.0L1026.4 149.0L1027.4 149.0L1028.4 149.0L1029.4 149.0L1030.4 149.0L1031.3 149.0L1032.3 149.0L1033.3 149.0L1034.3 149.0L1035.2 149.0L1036.2 149.0L1037.2 149.0L1038.2 149.0L1039.2 148.3L1040.1 148.3L1041.1 148.3L1042.1 148.3L1043.1 148.3L1044.0 148.3L1045.0 148.3L1046.0 148.3L1047.0 148.3L1048.0 148.3L1048.9 148.3L1049.9 148.3L1050.9 148.3L1051.9 148.3L1052.8 148.3L1053.8 148.3L1054.8 148.3L1055.8 148.3L1056.8 148.3L1057.7 148.3L1058.7 148.3L1059.7 148.3L1060.7 149.0L1061.7 149.0L1062.6 149.0L1063.6 149.0L1064.6 149.0L1065.6 149.0L1066.5 149.0L1067.5 149.0L1068.5 149.0L1069.5 149.0L1070.5 149.0L1071.4 150.5L1072.4 150.5L1073.4 150.5L1074.4 150.5L1075.3 149.0L1076.3 149.0L1077.3 149.0L1078.3 149.0L1079.3 149.0L1080.2 149.0L1081.2 148.3L1082.2 148.3L1083.2 148.3L1084.1 148.3L1085.1 148.3L1086.1 148.3L1087.1 148.3L1088.1 148.3L1089.0 148.3L1090.0 148.3L1091.0 148.3L1092.0 148.3L1092.9 148.3L1093.9 148.3L1094.9 148.3L1095.9 148.3L1096.9 147.5L1097.8 147.5L1098.8 147.5L1099.8 147.5L1100.8 148.3L1101.8 148.3L1102.7 148.3L1103.7 148.3L1104.7 148.3L1105.7 148.3L1106.6 147.5L1107.6 147.5L1108.6 148.3L1109.6 148.3L1110.6 148.3L1111.5 148.3L1112.5 148.3L1113.5 147.5L1114.5 147.5L1115.4 147.5L1116.4 148.3L1117.4 148.3L1118.4 148.3L1119.4 148.3L1120.3 148.3L1121.3 147.5L1122.3 147.5L1123.3 147.5L1124.2 147.5L1125.2 147.5L1126.2 147.5L1127.2 147.5L1128.2 147.5L1129.1 147.5L1130.1 147.5L1131.1 147.5L1132.1 148.3L1133.0 148.3L1134.0 148.3L1135.0 148.3L1136.0 148.3L1137.0 148.3L1137.9 149.0L1138.9 149.0L1139.9 149.0L1140.9 149.0L1141.8 150.5"/>
<rect x="164" y="149" width="979" height="1" fill="#000"/>
</g>
<g fill="#000" shape-rendering="crispEdges"><rect x="164" y="51" width="979" height="1"/><rect x="164" y="247" width="979" height="1"/><rect x="164" y="51" width="1" height="197"/><rect x="1142" y="51" width="1" height="197"/></g>
<text x="164.0" y="263" text-anchor="middle" textLength="7.20" lengthAdjust="spacingAndGlyphs">0</text>
<text x="327.0" y="263" text-anchor="middle" textLength="21.60" lengthAdjust="spacingAndGlyphs">500</text>
<text x="490.0" y="263" text-anchor="middle" textLength="28.80" lengthAdjust="spacingAndGlyphs">1000</text>
<text x="653.0" y="263" text-anchor="middle" textLength="28.80" lengthAdjust="spacingAndGlyphs">1500</text>
<text x="816.0" y="263" text-anchor="middle" textLength="28.80" lengthAdjust="spacingAndGlyphs">2000</text>
<text x="979.0" y="263" text-anchor="middle" textLength="28.80" lengthAdjust="spacingAndGlyphs">2500</text>
<text x="1142.0" y="263" text-anchor="middle" textLength="28.80" lengthAdjust="spacingAndGlyphs">3000</text>
<text x="159" y="55.5" text-anchor="end">4</text>
<text x="160" y="104.5" text-anchor="end">2</text>
<text x="159" y="153.5" text-anchor="end">0</text>
<text x="160" y="202.5" text-anchor="end">2</text>
<rect x="149" y="199" width="3" height="1" fill="#000" shape-rendering="crispEdges"/>
<text x="159" y="251.5" text-anchor="end">4</text>
<rect x="149" y="248" width="3" height="1" fill="#000" shape-rendering="crispEdges"/>
<g fill="#000" shape-rendering="crispEdges">
<rect x="164" y="345" width="1" height="10"/><rect x="164" y="531" width="1" height="11"/>
<rect x="327" y="345" width="1" height="10"/><rect x="327" y="531" width="1" height="11"/>
<rect x="490" y="345" width="1" height="10"/><rect x="490" y="531" width="1" height="11"/>
<rect x="653" y="345" width="1" height="10"/><rect x="653" y="531" width="1" height="11"/>
<rect x="816" y="345" width="1" height="10"/><rect x="816" y="531" width="1" height="11"/>
<rect x="979" y="345" width="1" height="10"/><rect x="979" y="531" width="1" height="11"/>
<rect x="1142" y="345" width="1" height="10"/><rect x="1142" y="531" width="1" height="11"/>
<rect x="164" y="345" width="10" height="1"/><rect x="1132" y="345" width="11" height="1"/>
<rect x="164" y="394" width="10" height="1"/><rect x="1132" y="394" width="11" height="1"/>
<rect x="164" y="443" width="10" height="1"/><rect x="1132" y="443" width="11" height="1"/>
<rect x="164" y="492" width="10" height="1"/><rect x="1132" y="492" width="11" height="1"/>
<rect x="164" y="541" width="10" height="1"/><rect x="1132" y="541" width="11" height="1"/>
</g>
<g clip-path="url(#cb)" fill="none" stroke-width="1" shape-rendering="crispEdges">
<g fill="#f00" shape-rendering="crispEdges"><rect x="165" y="446" width="1" height="19"/><rect x="166" y="464" width="1" height="44"/><rect x="170" y="346" width="1" height="47"/><rect x="172" y="405" width="1" height="39"/><rect x="173" y="390" width="1" height="54"/><rect x="174" y="346" width="1" height="38"/><rect x="175" y="362" width="1" height="82"/><rect x="176" y="421" width="1" height="53"/><rect x="177" y="365" width="1" height="89"/><rect x="178" y="365" width="1" height="65"/><rect x="179" y="354" width="1" height="64"/><rect x="180" y="346" width="1" height="65"/><rect x="181" y="346" width="1" height="37"/><rect x="182" y="346" width="1" height="37"/><rect x="183" y="346" width="1" height="37"/><rect x="184" y="355" width="1" height="53"/><rect x="185" y="348" width="1" height="54"/><rect x="186" y="352" width="1" height="52"/><rect x="187" y="360" width="1" height="47"/><rect x="188" y="371" width="1" height="41"/><rect x="189" y="377" width="1" height="41"/><rect x="190" y="384" width="1" height="39"/><rect x="191" y="413" width="1" height="21"/><rect x="192" y="413" width="1" height="24"/><rect x="193" y="414" width="1" height="11"/><rect x="194" y="424" width="1" height="7"/><rect x="195" y="429" width="1" height="8"/><rect x="196" y="436" width="1" height="5"/></g>
<path stroke="#f00" d="M197.1 441.6L198.1 445.6L199.1 449.5L200.0 453.4L201.0 457.1L202.0 460.8L202.9 464.0L203.0 464.4L203.9 470.5L204.6 474.4L204.9 475.0L205.5 476.1L205.9 479.8L206.5 485.2L206.9 486.1L207.5 487.5L207.9 488.7L208.8 491.8L209.8 494.6L210.8 497.0L211.4 498.3L211.8 498.8L212.7 500.0L213.7 500.8L214.7 501.2L215.7 501.2L216.7 500.8L217.6 500.0L218.6 498.9L219.6 497.5L220.6 495.6L220.6 495.6L221.6 494.5L222.5 493.2L223.5 491.5L224.5 489.6L224.5 489.5L225.5 487.7L226.4 485.6L227.4 483.4L228.4 481.0L229.4 478.5L230.4 475.8L231.0 474.1L231.3 472.9L232.3 469.3L233.3 465.8L234.3 462.2L235.2 458.8L236.2 455.4L237.2 452.1L238.2 449.0L239.2 446.0L240.1 443.3L240.2 443.1L241.1 440.0L242.1 436.9L243.1 434.0L244.0 431.4L244.1 431.2L245.0 429.3L246.0 427.5L247.0 426.0L248.0 424.8L248.9 423.8L249.9 423.1L250.0 423.0L250.9 423.5L251.9 424.3L252.8 425.3L253.8 426.5L254.8 427.9L255.8 429.5L255.9 429.7L256.8 431.0L257.7 432.7L258.7 434.4L259.7 436.2L260.7 438.1L261.1 439.0L261.6 440.0L262.6 441.7L263.6 443.5L264.6 445.2L265.6 446.8L266.5 448.4L267.5 449.8L268.5 451.1L268.9 451.6L269.5 452.2L270.4 453.0L271.4 453.6L272.4 454.0L273.4 454.2L274.4 454.2L275.3 453.9L276.3 453.3L276.8 452.9L277.3 452.6L278.3 451.7L279.3 450.5L280.2 449.1L280.7 448.3L281.2 447.3L282.2 445.1L283.2 442.8L284.1 440.2L284.6 438.9L285.1 437.0L286.1 433.4L287.1 429.6L288.1 425.6L289.0 421.5L289.8 418.3L290.0 417.5L291.0 414.1L292.0 410.7L292.9 407.2L293.8 404.2L293.9 403.9L294.9 401.6L295.9 399.4L296.9 397.4L297.7 395.7L297.8 395.4L298.8 393.8L299.8 392.4L300.8 391.2L301.0 391.0L301.7 390.4L302.3 390.0L302.7 383.6L302.9 381.0L303.5 387.1L303.7 386.6L304.7 384.5L305.7 382.7L306.6 381.3L307.6 380.3L308.1 379.9L308.6 379.7L309.6 379.6L310.5 379.9L311.5 380.6L312.5 381.6L313.4 382.9L313.5 383.0L314.5 384.8L315.4 387.0L316.0 388.4L316.4 389.7L317.4 392.9L318.4 396.4L319.4 400.2L320.3 404.3L321.2 408.2L321.3 408.6L322.3 412.8L323.3 417.2L324.2 421.8L325.2 426.4L325.8 429.2L326.2 431.7L327.2 438.0L327.8 442.0L328.2 443.9L329.1 449.2L330.1 454.5L331.1 459.7L331.7 462.9L332.1 464.4L333.0 468.4L334.0 472.1L334.3 473.2L335.0 477.4L335.5 480.3L336.0 481.4L337.0 483.4L337.6 484.6L337.9 486.3L338.9 491.2L338.9 491.2L339.9 493.6L340.9 495.6L341.8 497.3L342.8 498.6L343.4 499.2L343.8 499.9L344.8 501.5L345.8 502.8L346.7 503.6L347.7 504.1L348.7 504.2L349.7 503.9L350.0 503.7L350.6 502.9L351.6 501.4L352.6 499.6L353.6 497.4L354.6 495.0L355.5 492.4L355.7 491.9L356.5 489.2L357.5 485.8L358.5 482.2L359.4 478.5L359.7 477.5L360.4 475.0L361.4 471.6L362.4 468.1L363.4 464.6L363.6 463.8L364.3 461.5L365.3 458.6L366.3 455.8L367.3 453.1L367.5 452.5L368.2 450.0L369.2 447.0L370.2 444.2L371.2 441.5L371.4 441.0L372.2 437.8L373.1 433.9L374.1 430.3L374.7 428.3L375.1 426.8L376.0 423.7L376.1 423.8L377.1 425.6L377.3 426.1L378.0 425.6L379.0 425.3L380.0 425.2L381.0 425.3L381.9 425.7L381.9 425.7L382.9 426.2L383.9 426.8L384.9 427.7L385.9 428.7L386.8 430.0L387.8 431.3L388.8 432.8L389.7 434.3L389.8 434.5L390.7 436.7L391.7 438.9L392.7 441.2L393.6 443.3L393.7 443.4L394.7 445.1L395.6 446.8L396.6 448.3L397.6 449.8L397.6 449.8L398.6 450.7L399.5 451.6L400.5 452.2L401.5 452.7L402.5 452.9L402.8 452.9L403.5 453.1L404.4 453.2L405.4 453.0L406.4 452.6L407.4 451.9L408.0 451.3L408.3 451.1L409.3 450.4L410.3 449.4L411.3 448.2L411.9 447.2L412.3 446.5L413.2 444.2L414.2 441.7L415.2 439.0L415.2 439.0L416.2 435.3L417.1 431.3L418.1 427.2L419.1 423.0L419.1 423.0L420.1 420.2L421.1 417.4L422.0 414.5L423.0 411.6L423.7 409.5L424.0 408.7L425.0 406.1L426.0 403.6L426.9 401.2L427.6 399.6L427.9 398.6L428.9 395.6L429.9 392.8L430.8 390.2L431.8 387.9L432.8 385.8L432.9 385.6L433.8 382.2L434.8 378.7L434.8 378.5L435.7 380.2L436.1 381.0L436.7 380.5L437.7 380.0L438.7 379.9L439.4 380.0L439.6 380.2L440.6 381.1L441.6 382.4L442.0 383.0L442.6 383.9L443.6 385.7L444.5 387.9L445.5 390.4L445.9 391.5L446.5 392.8L447.5 395.1L448.4 397.8L449.4 400.8L449.8 402.0L450.4 403.8L451.4 406.9L452.4 410.3L453.3 413.8L454.3 417.5L455.1 420.5L455.3 421.9L456.3 429.2L457.2 436.6L458.2 444.0L458.3 444.5L459.2 448.3L460.2 452.3L461.2 456.2L462.1 460.0L462.9 462.9L463.1 463.7L464.1 467.3L465.1 470.7L465.5 472.1L466.1 474.4L467.0 478.3L468.0 481.9L468.8 484.6L469.0 486.0L470.0 493.5L470.1 494.5L470.9 496.2L471.9 497.8L472.1 498.1L472.9 500.0L473.9 502.0L474.9 503.7L475.8 504.9L476.6 505.6L476.8 505.6L477.8 505.4L478.8 504.7L479.7 503.7L480.7 502.4L481.2 501.6L481.7 500.6L482.7 498.4L483.7 495.9L484.6 493.1L485.6 490.1L486.5 487.1L486.6 486.9L487.6 484.5L488.5 481.9L489.5 479.2L490.5 476.4L491.5 473.5L492.5 470.5L493.4 467.5L494.4 464.5L495.1 462.4L495.4 461.4L496.4 457.9L497.3 454.6L498.3 451.4L499.3 448.3L500.3 445.4L501.0 443.4L501.3 442.5L502.2 439.1L503.2 436.0L504.2 433.2L504.9 431.2L505.2 430.4L506.1 427.4L506.2 427.3L507.1 427.4L508.1 427.7L508.1 427.7L509.1 426.6L510.1 425.8L511.0 425.2L512.0 424.9L513.0 424.9L514.0 425.0L514.7 425.3L515.0 425.6L515.9 426.8L516.9 428.2L517.9 429.8L518.6 431.0L518.9 431.6L519.8 433.8L520.8 436.1L521.8 438.4L522.8 440.8L523.2 441.9L523.8 442.7L524.7 444.1L525.7 445.5L526.7 446.8L527.7 448.0L528.6 449.1L529.6 450.1L530.6 450.9L531.0 451.2L531.6 451.8L532.6 452.7L533.5 453.4L534.5 453.8L535.5 454.0L536.5 454.0L537.4 453.7L537.6 453.6L538.4 453.1L539.4 452.2L540.4 451.0L541.4 449.6L542.3 447.9L542.8 447.0L543.3 445.7L544.3 443.0L545.3 440.1L546.2 437.0L547.2 433.7L548.0 431.0L548.2 430.3L549.2 426.7L550.2 423.0L551.1 419.2L552.1 415.3L553.1 411.5L554.1 407.6L554.5 405.9L555.0 404.0L556.0 400.8L557.0 397.6L558.0 394.6L558.5 393.1L559.0 392.0L559.9 390.0L560.9 388.1L561.9 386.5L562.9 385.2L563.7 384.3L563.9 384.1L564.8 383.4L565.7 383.1L565.8 382.1L566.3 377.2L566.8 377.7L567.8 378.8L568.7 380.3L568.9 380.6L569.7 380.3L570.7 380.3L571.7 380.8L572.7 381.6L573.6 382.7L574.2 383.6L574.6 384.1L575.6 385.7L576.6 387.5L577.5 389.7L578.5 392.2L579.5 395.1L580.5 398.2L580.7 398.9L581.5 402.3L582.4 406.9L583.4 411.7L584.4 416.7L585.4 421.8L585.9 424.6L586.3 427.4L587.3 433.8L588.3 440.2L588.5 441.5L589.3 445.0L590.3 449.4L591.2 453.8L592.2 458.0L593.2 462.1L593.8 464.6L594.2 467.0L595.1 473.1L595.7 476.5L596.1 478.3L597.1 482.1L598.1 485.7L599.1 488.9L600.0 491.9L600.3 492.6L601.0 494.2L602.0 496.1L603.0 497.7L603.9 498.9L604.9 499.7L605.5 500.0L605.9 500.2L606.9 500.5L607.9 500.5L608.8 500.0L609.8 499.2L610.8 498.1L611.8 496.6L612.1 496.0L612.8 495.1L613.7 493.5L614.7 491.6L615.7 489.5L616.0 488.7L616.7 487.4L617.6 485.2L618.6 482.8L619.6 480.3L620.6 477.7L621.2 475.9L621.6 474.7L622.5 471.3L623.5 467.9L624.5 464.4L625.5 461.0L626.4 457.6L627.4 454.4L627.8 453.1L628.4 451.2L629.4 448.3L630.4 445.4L631.3 442.8L631.7 441.9L632.3 439.7L633.3 436.4L634.3 433.3L635.2 430.4L635.6 429.4L636.2 427.8L637.2 425.5L637.6 424.6L638.2 425.0L639.2 425.9L639.5 426.3L640.1 426.0L641.1 425.9L642.1 426.0L643.1 426.3L644.0 426.9L644.7 427.4L645.0 427.7L646.0 428.9L647.0 430.2L648.0 431.7L648.9 433.3L649.9 435.0L650.5 436.1L650.9 436.8L651.9 438.4L652.8 440.2L653.8 441.9L654.8 443.6L655.8 445.3L656.8 446.9L657.7 448.4L658.7 449.8L659.7 451.1L660.7 452.2L661.6 453.2L662.6 453.9L663.6 454.4L663.6 454.4L664.6 454.4L665.6 454.1L666.5 453.6L667.5 452.8L668.5 451.7L668.8 451.3L669.5 450.8L670.5 449.8L671.4 448.5L672.4 447.0L673.4 445.3L674.4 443.3L675.3 441.1L675.3 441.0L676.3 437.6L677.3 433.9L678.3 430.2L679.3 426.2L680.2 422.2L681.2 418.0L681.9 415.1L682.2 414.3L683.2 411.6L684.1 408.8L685.1 406.2L686.1 403.5L687.1 401.0L688.1 398.5L688.4 397.7L689.0 396.5L690.0 394.9L691.0 393.5L692.0 392.4L692.3 392.0L692.9 389.2L693.6 386.5L693.9 386.2L694.9 385.5L694.9 385.5L695.9 383.8L696.9 382.4L697.8 381.4L698.8 380.8L699.8 380.5L700.8 380.6L701.7 381.1L702.7 382.0L702.8 382.0L703.7 383.3L704.7 385.1L705.7 387.2L706.6 389.7L707.6 392.5L708.6 395.7L709.6 399.2L710.5 402.9L711.5 406.9L711.9 408.5L712.5 410.8L713.5 414.6L714.5 418.7L715.4 422.8L716.4 427.1L717.2 430.6L717.4 431.8L718.4 437.9L719.4 444.1L719.8 446.9L720.3 449.6L721.3 454.5L722.3 459.3L723.3 464.1L723.7 466.1L724.2 468.0L725.2 471.3L725.7 472.8L726.2 475.7L727.0 480.3L727.2 480.7L728.2 482.4L728.9 483.5L729.1 484.7L730.1 489.4L730.2 489.8L731.1 492.7L732.1 495.6L733.0 498.2L734.0 500.3L735.0 502.1L735.5 502.9L736.0 503.5L737.0 504.5L737.9 505.2L738.9 505.5L739.9 505.4L740.9 504.9L741.8 504.1L742.0 504.0L742.8 502.4L743.8 500.3L744.8 497.8L745.8 495.1L745.9 494.7L746.7 491.9L747.7 488.5L748.7 485.0L749.7 481.2L750.6 477.3L751.6 473.3L752.5 469.7L752.6 469.4L753.6 466.6L754.6 463.7L755.5 460.9L756.5 458.1L757.5 455.4L758.5 452.8L759.0 451.5L759.5 449.9L760.4 446.7L761.4 443.6L762.4 440.7L762.9 439.2L763.4 437.7L764.3 434.8L765.3 432.1L766.3 429.6L767.3 427.4L768.3 425.5L768.8 424.5L769.2 425.4L770.1 427.4L770.2 427.4L771.2 426.8L772.2 426.6L773.1 426.6L774.1 426.8L775.1 427.2L776.0 427.8L776.1 427.9L777.1 428.9L778.0 430.1L779.0 431.4L780.0 432.9L781.0 434.4L781.2 434.8L781.9 436.5L782.9 438.6L783.9 440.9L784.9 443.1L785.9 445.2L786.4 446.4L786.8 447.0L787.8 448.3L788.8 449.4L789.8 450.4L790.7 451.2L791.7 451.9L792.7 452.4L793.7 452.7L794.3 452.8L794.7 452.9L795.6 453.1L796.6 453.1L797.6 452.8L798.6 452.3L799.5 451.5L799.5 451.5L800.5 450.7L801.5 449.7L802.5 448.4L803.5 446.8L804.4 445.0L804.7 444.5L805.4 442.4L806.4 439.3L807.4 436.0L808.4 432.6L809.3 429.0L810.0 426.4L810.3 425.5L811.3 422.3L812.3 419.1L813.2 415.8L814.2 412.6L815.2 409.3L815.5 408.3L816.2 405.8L817.2 402.4L818.1 399.1L819.1 395.9L820.1 392.8L821.1 390.0L822.0 387.4L823.0 385.0L823.3 384.3L824.0 383.2L825.0 382.0L826.0 381.0L826.9 380.4L827.9 380.1L828.6 380.1L828.9 380.1L829.9 380.5L830.8 381.3L831.8 382.4L832.5 383.5L832.8 383.8L833.8 385.2L834.8 387.0L835.7 389.2L836.4 390.8L836.7 391.4L837.7 393.3L838.7 395.5L839.6 398.0L840.3 399.9L840.6 400.8L841.6 403.6L842.6 406.7L843.6 410.0L844.3 412.7L844.5 414.0L845.5 419.4L846.5 424.9L847.5 430.5L847.5 430.7L848.4 437.1L849.4 443.7L849.5 444.2L850.4 447.8L851.4 451.6L852.4 455.3L853.3 459.0L854.3 462.4L854.7 463.8L855.3 465.9L856.0 468.4L856.3 469.9L857.2 475.0L858.0 478.7L858.2 479.7L859.2 483.7L860.2 487.4L861.2 490.8L861.3 491.3L862.1 495.5L863.1 500.1L863.2 500.5L864.1 500.9L864.5 501.0L865.1 502.1L866.1 503.6L867.0 504.8L867.8 505.4L868.0 505.4L869.0 504.9L870.0 504.1L870.9 503.0L871.9 501.4L872.9 499.6L873.0 499.4L873.9 497.5L874.9 495.2L875.8 492.7L876.8 489.8L877.6 487.4L877.8 486.9L878.8 484.3L879.7 481.5L880.7 478.6L881.7 475.5L882.2 473.9L882.7 472.6L883.7 469.8L884.6 467.0L885.6 464.2L886.1 462.8L886.6 461.1L887.6 457.6L888.5 454.3L889.5 451.1L890.5 448.0L891.5 445.1L892.5 442.4L892.6 442.0L893.4 439.4L894.4 436.6L895.4 434.1L896.4 431.7L896.5 431.5L897.3 429.5L898.3 427.4L899.2 425.8L899.3 425.8L900.3 426.4L900.5 426.5L901.3 426.1L902.2 425.7L903.2 425.6L904.2 425.8L905.2 426.2L906.1 426.8L907.0 427.4L907.1 427.6L908.1 429.1L909.1 430.7L910.1 432.5L911.0 434.4L912.0 436.4L912.2 436.7L913.0 438.1L914.0 439.8L915.0 441.5L915.9 443.3L916.9 444.9L917.9 446.5L918.8 447.9L918.9 448.0L919.8 449.5L920.8 450.8L921.8 451.9L922.8 452.9L923.8 453.7L924.7 454.2L925.7 454.5L926.6 454.6L926.7 454.6L927.7 454.3L928.6 453.8L929.6 453.0L930.6 451.9L931.6 450.6L932.6 449.0L933.5 447.1L934.5 445.0L935.5 442.7L935.8 441.9L936.5 439.9L937.4 436.8L938.4 433.5L939.4 430.0L940.4 426.4L941.0 424.1L941.4 422.7L942.3 419.0L943.3 415.3L944.3 411.5L945.3 407.7L946.2 404.1L946.2 403.9L947.2 400.7L948.2 397.5L949.2 394.5L950.1 391.8L950.2 391.7L951.1 390.0L952.1 388.5L953.1 387.2L954.1 386.2L954.1 386.2L955.0 385.4L956.0 385.0L956.0 385.0L957.0 383.3L958.0 382.0L958.0 382.0L959.0 381.1L959.9 380.5L960.9 380.3L961.9 380.5L961.9 380.5L962.9 380.8L963.9 381.5L964.8 382.6L965.8 384.0L966.8 385.8L967.1 386.5L967.8 388.1L968.7 390.9L969.7 394.0L970.7 397.3L971.7 401.0L971.7 401.1L972.7 405.3L973.6 409.9L974.6 414.7L975.6 419.7L976.6 424.8L977.5 430.0L978.5 435.1L978.5 435.2L979.5 439.7L980.5 444.1L981.1 446.9L981.5 448.7L982.4 453.4L983.4 458.1L984.4 462.6L984.4 462.6L985.4 469.0L985.7 471.2L986.3 474.0L987.3 478.2L988.3 482.1L989.0 484.7L989.3 485.6L990.3 488.4L991.2 490.9L992.2 493.1L993.2 495.0L994.2 496.4L994.2 496.5L995.1 497.9L996.1 499.0L997.1 499.7L998.1 500.0L999.1 500.0L1000.0 499.5L1000.7 499.0L1001.0 498.9L1002.0 498.3L1003.0 497.3L1004.0 496.0L1004.6 495.0L1004.9 494.5L1005.9 492.9L1006.9 491.1L1007.9 489.0L1008.6 487.3L1008.8 486.5L1009.8 483.3L1010.8 479.8L1011.8 476.3L1012.8 472.7L1013.7 469.0L1013.8 468.7L1014.7 465.6L1015.7 462.3L1016.7 459.0L1017.6 455.8L1017.7 455.6L1018.6 452.8L1019.6 449.9L1020.6 447.2L1021.6 444.7L1022.5 442.3L1022.9 441.5L1023.5 439.5L1024.5 436.4L1025.5 433.6L1026.4 431.1L1026.9 430.0L1027.4 428.9L1028.4 427.0L1029.4 425.4L1030.4 424.1L1030.8 423.6L1031.3 423.4L1032.3 423.3L1033.3 423.4L1034.3 423.8L1035.2 424.4L1036.0 425.1L1036.2 425.3L1037.2 426.5L1038.2 427.9L1039.2 429.5L1040.1 431.2L1041.1 433.0L1041.2 433.1L1042.1 435.1L1043.1 437.3L1044.0 439.6L1045.0 441.8L1046.0 444.1L1046.5 445.2L1047.0 446.1L1048.0 447.7L1048.9 449.2L1049.9 450.6L1050.9 451.9L1051.9 453.0L1052.8 454.0L1053.8 454.7L1054.3 455.0L1054.8 455.1L1055.8 455.1L1056.8 454.8L1057.7 454.3L1058.7 453.5L1059.5 452.7L1059.7 452.5L1060.7 451.6L1061.7 450.5L1062.6 449.1L1063.6 447.4L1064.6 445.4L1065.6 443.3L1066.1 442.0L1066.5 440.4L1067.5 436.9L1068.5 433.2L1069.5 429.3L1070.0 427.1L1070.5 425.0L1071.4 420.4L1072.4 415.8L1072.6 414.8L1073.4 414.0L1073.9 413.5L1074.4 412.2L1075.3 409.5L1076.3 406.8L1077.3 404.1L1078.3 401.6L1079.2 399.3L1079.3 399.1L1080.2 396.8L1081.2 394.6L1082.2 392.6L1083.1 391.0L1083.2 390.8L1084.1 388.4L1085.1 386.2L1086.1 384.3L1087.0 382.9L1087.1 382.6L1088.1 380.1L1089.0 377.9L1089.6 376.8L1090.0 377.3L1090.9 378.6L1091.0 378.6L1092.0 378.8L1092.9 379.5L1093.9 380.5L1094.8 381.7L1094.9 381.9L1095.9 383.9L1096.9 386.3L1097.8 389.0L1098.8 392.1L1099.8 395.4L1100.8 399.2L1101.4 401.7L1101.8 402.8L1102.7 406.2L1103.7 409.8L1104.7 413.6L1105.7 417.6L1106.6 421.8L1107.6 426.0L1107.9 427.3L1108.6 431.8L1109.6 438.2L1110.5 444.3L1110.6 444.5L1111.5 448.9L1112.5 453.3L1113.5 457.6L1114.5 461.8L1115.4 465.8L1115.8 467.2L1116.4 469.7L1117.1 472.4L1117.4 473.5L1118.4 477.1L1119.4 480.4L1120.3 483.5L1121.3 486.2L1121.6 486.9L1122.3 489.2L1123.3 492.2L1124.2 494.9L1125.2 497.1L1126.2 499.0L1127.2 500.5L1128.2 501.7L1128.8 502.2L1129.1 502.3L1130.1 502.2L1131.1 501.8L1132.1 501.0L1133.0 499.9L1134.0 498.5L1134.1 498.3L1135.0 496.3L1136.0 493.7L1137.0 490.9L1137.9 487.8L1138.9 484.6L1139.9 481.1L1140.9 477.5L1141.8 473.7L1142.5 471.1"/>
<path stroke="#00f" d="M164.5 406.4L165.5 403.0L166.5 399.7L167.4 396.5L168.4 393.6L169.4 390.8L170.4 388.2L171.3 385.9L172.3 383.9L173.3 382.2L174.3 380.8L175.3 379.7L176.2 379.0L177.2 378.6L178.2 378.6L179.2 379.0L180.1 379.8L181.1 380.9L182.1 382.5L183.1 384.4L184.1 386.7L185.0 389.3L186.0 392.3L187.0 395.6L188.0 399.2L188.9 403.1L189.9 407.3L190.9 411.7L191.9 416.3L192.9 421.0L193.8 426.0L194.8 431.0L195.8 436.1L196.8 441.3L197.8 446.4L198.7 451.6L199.7 456.7L200.7 461.7L201.7 466.6L202.6 471.3L203.6 475.8L204.6 480.1L205.6 484.2L206.6 488.0L207.5 491.5L208.5 494.7L209.5 497.6L210.5 500.1L211.4 502.3L212.4 504.1L213.4 505.5L214.4 506.5L215.4 507.2L216.3 507.4L217.3 507.3L218.3 506.8L219.3 506.0L220.2 504.8L221.2 503.3L222.2 501.5L223.2 499.3L224.2 496.9L225.1 494.3L226.1 491.5L227.1 488.4L228.1 485.2L229.0 481.9L230.0 478.5L231.0 474.9L232.0 471.4L233.0 467.8L233.9 464.3L234.9 460.8L235.9 457.4L236.9 454.1L237.8 450.9L238.8 447.9L239.8 445.1L240.8 442.4L241.8 440.0L242.7 437.8L243.7 435.8L244.7 434.1L245.7 432.7L246.7 431.5L247.6 430.6L248.6 430.0L249.6 429.6L250.6 429.5L251.5 429.6L252.5 430.0L253.5 430.6L254.5 431.4L255.5 432.4L256.4 433.6L257.4 434.9L258.4 436.4L259.4 437.9L260.3 439.6L261.3 441.3L262.3 443.0L263.3 444.7L264.3 446.4L265.2 448.1L266.2 449.6L267.2 451.1L268.2 452.4L269.1 453.6L270.1 454.6L271.1 455.4L272.1 456.0L273.1 456.4L274.0 456.5L275.0 456.4L276.0 456.0L277.0 455.4L277.9 454.5L278.9 453.3L279.9 451.9L280.9 450.2L281.9 448.2L282.8 446.0L283.8 443.6L284.8 440.9L285.8 438.1L286.8 435.1L287.7 431.9L288.7 428.6L289.7 425.2L290.7 421.7L291.6 418.2L292.6 414.6L293.6 411.1L294.6 407.5L295.6 404.1L296.5 400.8L297.5 397.6L298.5 394.5L299.5 391.7L300.4 389.1L301.4 386.7L302.4 384.5L303.4 382.7L304.4 381.2L305.3 380.0L306.3 379.2L307.3 378.7L308.3 378.6L309.2 378.8L310.2 379.5L311.2 380.5L312.2 381.9L313.2 383.7L314.1 385.9L315.1 388.4L316.1 391.3L317.1 394.5L318.0 398.0L319.0 401.8L320.0 405.9L321.0 410.2L322.0 414.7L322.9 419.4L323.9 424.3L324.9 429.3L325.9 434.4L326.8 439.6L327.8 444.7L328.8 449.9L329.8 455.0L330.8 460.0L331.7 465.0L332.7 469.7L333.7 474.3L334.7 478.7L335.6 482.9L336.6 486.8L337.6 490.4L338.6 493.7L339.6 496.7L340.5 499.3L341.5 501.6L342.5 503.5L343.5 505.1L344.5 506.2L345.4 507.0L346.4 507.4L347.4 507.4L348.4 507.0L349.3 506.3L350.3 505.2L351.3 503.8L352.3 502.1L353.3 500.1L354.2 497.8L355.2 495.2L356.2 492.4L357.2 489.5L358.1 486.3L359.1 483.0L360.1 479.6L361.1 476.1L362.1 472.6L363.0 469.0L364.0 465.5L365.0 462.0L366.0 458.5L366.9 455.2L367.9 452.0L368.9 448.9L369.9 446.0L370.9 443.3L371.8 440.8L372.8 438.5L373.8 436.5L374.8 434.7L375.7 433.2L376.7 431.9L377.7 430.9L378.7 430.2L379.7 429.7L380.6 429.5L381.6 429.6L382.6 429.9L383.6 430.4L384.6 431.1L385.5 432.1L386.5 433.2L387.5 434.5L388.5 435.9L389.4 437.4L390.4 439.0L391.4 440.7L392.4 442.4L393.4 444.1L394.3 445.9L395.3 447.5L396.3 449.1L397.3 450.6L398.2 452.0L399.2 453.2L400.2 454.3L401.2 455.1L402.2 455.8L403.1 456.3L404.1 456.5L405.1 456.5L406.1 456.2L407.0 455.6L408.0 454.8L409.0 453.7L410.0 452.4L411.0 450.8L411.9 448.9L412.9 446.8L413.9 444.4L414.9 441.8L415.8 439.1L416.8 436.1L417.8 433.0L418.8 429.7L419.8 426.3L420.7 422.9L421.7 419.3L422.7 415.8L423.7 412.2L424.6 408.7L425.6 405.2L426.6 401.9L427.6 398.6L428.6 395.5L429.5 392.6L430.5 389.9L431.5 387.4L432.5 385.2L433.4 383.3L434.4 381.7L435.4 380.4L436.4 379.4L437.4 378.8L438.3 378.6L439.3 378.7L440.3 379.2L441.3 380.1L442.3 381.4L443.2 383.1L444.2 385.1L445.2 387.5L446.2 390.3L447.1 393.4L448.1 396.8L449.1 400.5L450.1 404.5L451.1 408.7L452.0 413.2L453.0 417.8L454.0 422.7L455.0 427.6L455.9 432.7L456.9 437.8L457.9 443.0L458.9 448.2L459.9 453.3L460.8 458.4L461.8 463.3L462.8 468.2L463.8 472.8L464.7 477.3L465.7 481.5L466.7 485.5L467.7 489.2L468.7 492.6L469.6 495.7L470.6 498.5L471.6 500.9L472.6 502.9L473.5 504.6L474.5 505.9L475.5 506.8L476.5 507.3L477.5 507.4L478.4 507.2L479.4 506.6L480.4 505.6L481.4 504.3L482.4 502.7L483.3 500.8L484.3 498.6L485.3 496.1L486.3 493.4L487.2 490.5L488.2 487.4L489.2 484.1L490.2 480.8L491.2 477.3L492.1 473.8L493.1 470.2L494.1 466.7L495.1 463.1L496.0 459.7L497.0 456.3L498.0 453.0L499.0 449.9L500.0 446.9L500.9 444.2L501.9 441.6L502.9 439.2L503.9 437.1L504.8 435.2L505.8 433.6L506.8 432.3L507.8 431.2L508.8 430.4L509.7 429.8L510.7 429.5L511.7 429.5L512.7 429.7L513.6 430.2L514.6 430.9L515.6 431.7L516.6 432.8L517.6 434.0L518.5 435.4L519.5 436.9L520.5 438.5L521.5 440.1L522.4 441.9L523.4 443.6L524.4 445.3L525.4 447.0L526.4 448.6L527.3 450.1L528.3 451.5L529.3 452.8L530.3 453.9L531.2 454.9L532.2 455.6L533.2 456.1L534.2 456.4L535.2 456.5L536.1 456.3L537.1 455.8L538.1 455.1L539.1 454.1L540.1 452.8L541.0 451.3L542.0 449.5L543.0 447.5L544.0 445.2L544.9 442.7L545.9 440.0L546.9 437.1L547.9 434.0L548.9 430.8L549.8 427.5L550.8 424.0L551.8 420.5L552.8 417.0L553.7 413.4L554.7 409.9L555.7 406.4L556.7 403.0L557.7 399.7L558.6 396.5L559.6 393.6L560.6 390.8L561.6 388.2L562.5 385.9L563.5 383.9L564.5 382.2L565.5 380.8L566.5 379.7L567.4 379.0L568.4 378.6L569.4 378.6L570.4 379.0L571.3 379.8L572.3 380.9L573.3 382.5L574.3 384.4L575.3 386.7L576.2 389.3L577.2 392.3L578.2 395.6L579.2 399.2L580.1 403.1L581.1 407.3L582.1 411.7L583.1 416.3L584.1 421.0L585.0 426.0L586.0 431.0L587.0 436.1L588.0 441.3L589.0 446.4L589.9 451.6L590.9 456.7L591.9 461.7L592.9 466.6L593.8 471.3L594.8 475.8L595.8 480.1L596.8 484.2L597.8 488.0L598.7 491.5L599.7 494.7L600.7 497.6L601.7 500.1L602.6 502.3L603.6 504.1L604.6 505.5L605.6 506.5L606.6 507.2L607.5 507.4L608.5 507.3L609.5 506.8L610.5 506.0L611.4 504.8L612.4 503.3L613.4 501.5L614.4 499.3L615.4 496.9L616.3 494.3L617.3 491.5L618.3 488.4L619.3 485.2L620.2 481.9L621.2 478.5L622.2 474.9L623.2 471.4L624.2 467.8L625.1 464.3L626.1 460.8L627.1 457.4L628.1 454.1L629.0 450.9L630.0 447.9L631.0 445.1L632.0 442.4L633.0 440.0L633.9 437.8L634.9 435.8L635.9 434.1L636.9 432.7L637.9 431.5L638.8 430.6L639.8 430.0L640.8 429.6L641.8 429.5L642.7 429.6L643.7 430.0L644.7 430.6L645.7 431.4L646.7 432.4L647.6 433.6L648.6 434.9L649.6 436.4L650.6 437.9L651.5 439.6L652.5 441.3L653.5 443.0L654.5 444.7L655.5 446.4L656.4 448.1L657.4 449.6L658.4 451.1L659.4 452.4L660.3 453.6L661.3 454.6L662.3 455.4L663.3 456.0L664.3 456.4L665.2 456.5L666.2 456.4L667.2 456.0L668.2 455.4L669.1 454.5L670.1 453.3L671.1 451.9L672.1 450.2L673.1 448.2L674.0 446.0L675.0 443.6L676.0 440.9L677.0 438.1L678.0 435.1L678.9 431.9L679.9 428.6L680.9 425.2L681.9 421.7L682.8 418.2L683.8 414.6L684.8 411.1L685.8 407.5L686.8 404.1L687.7 400.8L688.7 397.6L689.7 394.5L690.7 391.7L691.6 389.1L692.6 386.7L693.6 384.5L694.6 382.7L695.6 381.2L696.5 380.0L697.5 379.2L698.5 378.7L699.5 378.6L700.4 378.8L701.4 379.5L702.4 380.5L703.4 381.9L704.4 383.7L705.3 385.9L706.3 388.4L707.3 391.3L708.3 394.5L709.2 398.0L710.2 401.8L711.2 405.9L712.2 410.2L713.2 414.7L714.1 419.4L715.1 424.3L716.1 429.3L717.1 434.4L718.0 439.6L719.0 444.7L720.0 449.9L721.0 455.0L722.0 460.0L722.9 465.0L723.9 469.7L724.9 474.3L725.9 478.7L726.9 482.9L727.8 486.8L728.8 490.4L729.8 493.7L730.8 496.7L731.7 499.3L732.7 501.6L733.7 503.5L734.7 505.1L735.7 506.2L736.6 507.0L737.6 507.4L738.6 507.4L739.6 507.0L740.5 506.3L741.5 505.2L742.5 503.8L743.5 502.1L744.5 500.1L745.4 497.8L746.4 495.2L747.4 492.4L748.4 489.5L749.3 486.3L750.3 483.0L751.3 479.6L752.3 476.1L753.3 472.6L754.2 469.0L755.2 465.5L756.2 462.0L757.2 458.5L758.1 455.2L759.1 452.0L760.1 448.9L761.1 446.0L762.1 443.3L763.0 440.8L764.0 438.5L765.0 436.5L766.0 434.7L766.9 433.2L767.9 431.9L768.9 430.9L769.9 430.2L770.9 429.7L771.8 429.5L772.8 429.6L773.8 429.9L774.8 430.4L775.8 431.1L776.7 432.1L777.7 433.2L778.7 434.5L779.7 435.9L780.6 437.4L781.6 439.0L782.6 440.7L783.6 442.4L784.6 444.1L785.5 445.9L786.5 447.5L787.5 449.1L788.5 450.6L789.4 452.0L790.4 453.2L791.4 454.3L792.4 455.1L793.4 455.8L794.3 456.3L795.3 456.5L796.3 456.5L797.3 456.2L798.2 455.6L799.2 454.8L800.2 453.7L801.2 452.4L802.2 450.8L803.1 448.9L804.1 446.8L805.1 444.4L806.1 441.8L807.0 439.1L808.0 436.1L809.0 433.0L810.0 429.7L811.0 426.3L811.9 422.9L812.9 419.3L813.9 415.8L814.9 412.2L815.8 408.7L816.8 405.2L817.8 401.9L818.8 398.6L819.8 395.5L820.7 392.6L821.7 389.9L822.7 387.4L823.7 385.2L824.6 383.3L825.6 381.7L826.6 380.4L827.6 379.4L828.6 378.8L829.5 378.6L830.5 378.7L831.5 379.2L832.5 380.1L833.5 381.4L834.4 383.1L835.4 385.1L836.4 387.5L837.4 390.3L838.3 393.4L839.3 396.8L840.3 400.5L841.3 404.5L842.3 408.7L843.2 413.2L844.2 417.8L845.2 422.7L846.2 427.6L847.1 432.7L848.1 437.8L849.1 443.0L850.1 448.2L851.1 453.3L852.0 458.4L853.0 463.3L854.0 468.2L855.0 472.8L855.9 477.3L856.9 481.5L857.9 485.5L858.9 489.2L859.9 492.6L860.8 495.7L861.8 498.5L862.8 500.9L863.8 502.9L864.7 504.6L865.7 505.9L866.7 506.8L867.7 507.3L868.7 507.4L869.6 507.2L870.6 506.6L871.6 505.6L872.6 504.3L873.5 502.7L874.5 500.8L875.5 498.6L876.5 496.1L877.5 493.4L878.4 490.5L879.4 487.4L880.4 484.1L881.4 480.8L882.4 477.3L883.3 473.8L884.3 470.2L885.3 466.7L886.3 463.1L887.2 459.7L888.2 456.3L889.2 453.0L890.2 449.9L891.2 446.9L892.1 444.2L893.1 441.6L894.1 439.2L895.1 437.1L896.0 435.2L897.0 433.6L898.0 432.3L899.0 431.2L900.0 430.4L900.9 429.8L901.9 429.5L902.9 429.5L903.9 429.7L904.8 430.2L905.8 430.9L906.8 431.7L907.8 432.8L908.8 434.0L909.7 435.4L910.7 436.9L911.7 438.5L912.7 440.1L913.6 441.9L914.6 443.6L915.6 445.3L916.6 447.0L917.6 448.6L918.5 450.1L919.5 451.5L920.5 452.8L921.5 453.9L922.5 454.9L923.4 455.6L924.4 456.1L925.4 456.4L926.4 456.5L927.3 456.3L928.3 455.8L929.3 455.1L930.3 454.1L931.3 452.8L932.2 451.3L933.2 449.5L934.2 447.5L935.2 445.2L936.1 442.7L937.1 440.0L938.1 437.1L939.1 434.0L940.1 430.8L941.0 427.5L942.0 424.0L943.0 420.5L944.0 417.0L944.9 413.4L945.9 409.9L946.9 406.4L947.9 403.0L948.9 399.7L949.8 396.5L950.8 393.6L951.8 390.8L952.8 388.2L953.7 385.9L954.7 383.9L955.7 382.2L956.7 380.8L957.7 379.7L958.6 379.0L959.6 378.6L960.6 378.6L961.6 379.0L962.5 379.8L963.5 380.9L964.5 382.5L965.5 384.4L966.5 386.7L967.4 389.3L968.4 392.3L969.4 395.6L970.4 399.2L971.4 403.1L972.3 407.3L973.3 411.7L974.3 416.3L975.3 421.0L976.2 426.0L977.2 431.0L978.2 436.1L979.2 441.3L980.2 446.4L981.1 451.6L982.1 456.7L983.1 461.7L984.1 466.6L985.0 471.3L986.0 475.8L987.0 480.1L988.0 484.2L989.0 488.0L989.9 491.5L990.9 494.7L991.9 497.6L992.9 500.1L993.8 502.3L994.8 504.1L995.8 505.5L996.8 506.5L997.8 507.2L998.7 507.4L999.7 507.3L1000.7 506.8L1001.7 506.0L1002.6 504.8L1003.6 503.3L1004.6 501.5L1005.6 499.3L1006.6 496.9L1007.5 494.3L1008.5 491.5L1009.5 488.4L1010.5 485.2L1011.4 481.9L1012.4 478.5L1013.4 474.9L1014.4 471.4L1015.4 467.8L1016.3 464.3L1017.3 460.8L1018.3 457.4L1019.3 454.1L1020.2 450.9L1021.2 447.9L1022.2 445.1L1023.2 442.4L1024.2 440.0L1025.1 437.8L1026.1 435.8L1027.1 434.1L1028.1 432.7L1029.1 431.5L1030.0 430.6L1031.0 430.0L1032.0 429.6L1033.0 429.5L1033.9 429.6L1034.9 430.0L1035.9 430.6L1036.9 431.4L1037.9 432.4L1038.8 433.6L1039.8 434.9L1040.8 436.4L1041.8 437.9L1042.7 439.6L1043.7 441.3L1044.7 443.0L1045.7 444.7L1046.7 446.4L1047.6 448.1L1048.6 449.6L1049.6 451.1L1050.6 452.4L1051.5 453.6L1052.5 454.6L1053.5 455.4L1054.5 456.0L1055.5 456.4L1056.4 456.5L1057.4 456.4L1058.4 456.0L1059.4 455.4L1060.3 454.5L1061.3 453.3L1062.3 451.9L1063.3 450.2L1064.3 448.2L1065.2 446.0L1066.2 443.6L1067.2 440.9L1068.2 438.1L1069.2 435.1L1070.1 431.9L1071.1 428.6L1072.1 425.2L1073.1 421.7L1074.0 418.2L1075.0 414.6L1076.0 411.1L1077.0 407.5L1078.0 404.1L1078.9 400.8L1079.9 397.6L1080.9 394.5L1081.9 391.7L1082.8 389.1L1083.8 386.7L1084.8 384.5L1085.8 382.7L1086.8 381.2L1087.7 380.0L1088.7 379.2L1089.7 378.7L1090.7 378.6L1091.6 378.8L1092.6 379.5L1093.6 380.5L1094.6 381.9L1095.6 383.7L1096.5 385.9L1097.5 388.4L1098.5 391.3L1099.5 394.5L1100.4 398.0L1101.4 401.8L1102.4 405.9L1103.4 410.2L1104.4 414.7L1105.3 419.4L1106.3 424.3L1107.3 429.3L1108.3 434.4L1109.2 439.6L1110.2 444.7L1111.2 449.9L1112.2 455.0L1113.2 460.0L1114.1 465.0L1115.1 469.7L1116.1 474.3L1117.1 478.7L1118.0 482.9L1119.0 486.8L1120.0 490.4L1121.0 493.7L1122.0 496.7L1122.9 499.3L1123.9 501.6L1124.9 503.5L1125.9 505.1L1126.9 506.2L1127.8 507.0L1128.8 507.4L1129.8 507.4L1130.8 507.0L1131.7 506.3L1132.7 505.2L1133.7 503.8L1134.7 502.1L1135.7 500.1L1136.6 497.8L1137.6 495.2L1138.6 492.4L1139.6 489.5L1140.5 486.3L1141.5 483.0L1142.5 479.6"/>
<g fill="#0f0" shape-rendering="crispEdges"><rect x="165" y="488" width="1" height="20"/><rect x="166" y="507" width="1" height="35"/><rect x="170" y="392" width="1" height="150"/><rect x="171" y="346" width="1" height="196"/><rect x="172" y="443" width="1" height="99"/><rect x="173" y="443" width="1" height="99"/><rect x="174" y="383" width="1" height="159"/><rect x="175" y="443" width="1" height="99"/><rect x="176" y="487" width="1" height="51"/><rect x="177" y="453" width="1" height="89"/><rect x="178" y="429" width="1" height="81"/><rect x="179" y="417" width="1" height="65"/><rect x="180" y="410" width="1" height="77"/><rect x="181" y="382" width="1" height="130"/><rect x="182" y="382" width="1" height="104"/><rect x="183" y="382" width="1" height="121"/><rect x="184" y="407" width="1" height="88"/><rect x="185" y="401" width="1" height="87"/><rect x="186" y="403" width="1" height="76"/><rect x="187" y="406" width="1" height="73"/><rect x="188" y="411" width="1" height="59"/><rect x="189" y="417" width="1" height="53"/><rect x="190" y="422" width="1" height="37"/><rect x="191" y="433" width="1" height="21"/><rect x="192" y="436" width="1" height="13"/></g>
<path stroke="#0f0" d="M197.1 441.6L198.1 440.4L199.1 439.2L200.0 438.0L201.0 436.8L202.0 435.6L202.9 434.5L203.0 434.6L203.9 436.2L204.6 437.2L204.9 436.5L205.5 435.2L205.9 437.3L206.5 440.4L206.9 439.9L207.5 439.1L207.9 439.1L208.8 439.1L209.8 439.1L210.8 439.1L211.4 439.1L211.8 438.9L212.7 438.4L213.7 437.9L214.7 437.4L215.7 436.9L216.7 436.4L217.6 435.8L218.6 435.3L219.6 434.8L220.6 434.3L220.6 434.3L221.6 434.8L222.5 435.4L223.5 435.9L224.5 436.5L224.5 436.5L225.5 437.3L226.4 438.2L227.4 439.0L228.4 439.9L229.4 440.7L230.4 441.5L231.0 442.1L231.3 442.1L232.3 442.1L233.3 442.1L234.3 442.1L235.2 442.1L236.2 442.1L237.2 442.1L238.2 442.1L239.2 442.1L240.1 442.1L240.2 442.1L241.1 441.4L242.1 440.6L243.1 439.9L244.0 439.1L244.1 439.1L245.0 438.7L246.0 438.3L247.0 437.8L248.0 437.4L248.9 437.0L249.9 436.5L250.0 436.5L250.9 437.0L251.9 437.5L252.8 438.1L253.8 438.6L254.8 439.2L255.8 439.7L255.9 439.8L256.8 440.0L257.7 440.3L258.7 440.5L259.7 440.7L260.7 441.0L261.1 441.1L261.6 441.1L262.6 441.1L263.6 441.2L264.6 441.2L265.6 441.2L266.5 441.2L267.5 441.3L268.5 441.3L268.9 441.3L269.5 441.2L270.4 441.1L271.4 441.0L272.4 440.9L273.4 440.8L274.4 440.7L275.3 440.6L276.3 440.5L276.8 440.4L277.3 440.5L278.3 440.6L279.3 440.7L280.2 440.8L280.7 440.8L281.2 440.7L282.2 440.6L283.2 440.5L284.1 440.4L284.6 440.4L285.1 440.0L286.1 439.3L287.1 438.5L288.1 437.8L289.0 437.1L289.8 436.5L290.0 436.5L291.0 436.6L292.0 436.7L292.9 436.8L293.8 436.9L293.9 437.1L294.9 438.3L295.9 439.5L296.9 440.7L297.7 441.7L297.8 441.9L298.8 443.3L299.8 444.6L300.8 446.0L301.0 446.3L301.7 447.4L302.3 448.3L302.7 442.7L302.9 440.4L303.5 447.6L303.7 447.5L304.7 446.8L305.7 446.1L306.6 445.4L307.6 444.6L308.1 444.3L308.6 444.1L309.6 443.6L310.5 443.1L311.5 442.6L312.5 442.1L313.4 441.7L313.5 441.7L314.5 441.2L315.4 440.7L316.0 440.4L316.4 440.4L317.4 440.3L318.4 440.2L319.4 440.1L320.3 440.1L321.2 440.0L321.3 440.0L322.3 439.6L323.3 439.2L324.2 438.8L325.2 438.4L325.8 438.2L326.2 438.6L327.2 439.7L327.8 440.4L328.2 440.5L329.1 440.6L330.1 440.8L331.1 441.0L331.7 441.1L332.1 440.8L333.0 440.1L334.0 439.3L334.3 439.1L335.0 440.2L335.5 441.0L336.0 440.1L337.0 438.4L337.6 437.2L337.9 437.8L338.9 439.5L338.9 439.5L339.9 439.0L340.9 438.5L341.8 438.0L342.8 437.5L343.4 437.2L343.8 437.4L344.8 438.0L345.8 438.6L346.7 439.2L347.7 439.7L348.7 440.3L349.7 440.9L350.0 441.1L350.6 441.1L351.6 441.1L352.6 441.1L353.6 441.1L354.6 441.1L355.5 441.1L355.7 441.1L356.5 440.8L357.5 440.4L358.5 440.0L359.4 439.6L359.7 439.5L360.4 439.6L361.4 439.6L362.4 439.7L363.4 439.8L363.6 439.8L364.3 440.2L365.3 440.8L366.3 441.4L367.3 442.0L367.5 442.1L368.2 442.1L369.2 442.1L370.2 442.1L371.2 442.1L371.4 442.1L372.2 440.8L373.1 439.1L374.1 437.5L374.7 436.5L375.1 435.7L376.0 433.9L376.1 434.1L377.1 437.1L377.3 437.8L378.0 438.0L379.0 438.3L380.0 438.6L381.0 438.8L381.9 439.1L381.9 439.1L382.9 439.2L383.9 439.2L384.9 439.3L385.9 439.3L386.8 439.4L387.8 439.4L388.8 439.5L389.7 439.5L389.8 439.5L390.7 440.1L391.7 440.6L392.7 441.2L393.6 441.7L393.7 441.7L394.7 441.7L395.6 441.7L396.6 441.7L397.6 441.7L397.6 441.7L398.6 441.3L399.5 441.0L400.5 440.6L401.5 440.3L402.5 439.9L402.8 439.8L403.5 439.8L404.4 439.7L405.4 439.6L406.4 439.6L407.4 439.5L408.0 439.5L408.3 439.7L409.3 440.1L410.3 440.6L411.3 441.0L411.9 441.3L412.3 441.3L413.2 441.2L414.2 441.2L415.2 441.1L415.2 441.1L416.2 440.2L417.1 439.2L418.1 438.3L419.1 437.4L419.1 437.4L420.1 438.0L421.1 438.7L422.0 439.3L423.0 440.0L423.7 440.4L424.0 440.7L425.0 441.6L426.0 442.5L426.9 443.4L427.6 444.0L427.9 444.0L428.9 444.1L429.9 444.1L430.8 444.2L431.8 444.2L432.8 444.3L432.9 444.3L433.8 442.5L434.8 440.5L434.8 440.4L435.7 443.2L436.1 444.3L436.7 444.3L437.7 444.3L438.7 444.3L439.4 444.3L439.6 444.4L440.6 444.6L441.6 444.9L442.0 445.0L442.6 445.0L443.6 445.0L444.5 445.0L445.5 445.0L445.9 445.0L446.5 444.5L447.5 443.7L448.4 442.8L449.4 442.0L449.8 441.7L450.4 441.0L451.4 439.8L452.4 438.6L453.3 437.4L454.3 436.2L455.1 435.2L455.3 435.6L456.3 437.8L457.2 440.0L458.2 442.2L458.3 442.4L459.2 441.4L460.2 440.3L461.2 439.2L462.1 438.1L462.9 437.2L463.1 437.0L464.1 436.0L465.1 434.9L465.5 434.5L466.1 434.5L467.0 434.5L468.0 434.5L468.8 434.5L469.0 435.3L470.0 439.8L470.1 440.4L470.9 439.9L471.9 439.2L472.1 439.1L472.9 439.5L473.9 440.0L474.9 440.4L475.8 440.9L476.6 441.3L476.8 441.2L477.8 441.0L478.8 440.7L479.7 440.4L480.7 440.1L481.2 440.0L481.7 439.8L482.7 439.3L483.7 438.8L484.6 438.3L485.6 437.8L486.5 437.4L486.6 437.5L487.6 438.0L488.5 438.6L489.5 439.2L490.5 439.8L491.5 440.4L492.5 440.9L493.4 441.5L494.4 442.0L495.1 442.4L495.4 442.4L496.4 442.4L497.3 442.4L498.3 442.4L499.3 442.4L500.3 442.4L501.0 442.4L501.3 442.2L502.2 441.4L503.2 440.5L504.2 439.7L504.9 439.1L505.2 438.7L506.1 437.3L506.2 437.2L507.1 438.5L508.1 439.8L508.1 439.8L509.1 439.4L510.1 439.1L511.0 438.7L512.0 438.4L513.0 438.0L514.0 437.7L514.7 437.4L515.0 437.5L515.9 437.7L516.9 438.0L517.9 438.3L518.6 438.5L518.9 438.7L519.8 439.4L520.8 440.0L521.8 440.7L522.8 441.4L523.2 441.7L523.8 441.5L524.7 441.3L525.7 441.0L526.7 440.7L527.7 440.4L528.6 440.2L529.6 439.9L530.6 439.6L531.0 439.5L531.6 439.6L532.6 439.9L533.5 440.1L534.5 440.4L535.5 440.6L536.5 440.8L537.4 441.1L537.6 441.1L538.4 441.3L539.4 441.4L540.4 441.6L541.4 441.8L542.3 442.0L542.8 442.1L543.3 441.9L544.3 441.6L545.3 441.3L546.2 441.0L547.2 440.7L548.0 440.4L548.2 440.3L549.2 440.0L550.2 439.7L551.1 439.3L552.1 439.0L553.1 438.7L554.1 438.3L554.5 438.2L555.0 438.3L556.0 438.5L557.0 438.8L558.0 439.0L558.5 439.1L559.0 439.5L559.9 440.4L560.9 441.2L561.9 442.1L562.9 443.0L563.7 443.7L563.9 443.8L564.8 444.8L565.7 445.6L565.8 444.7L566.3 440.4L566.8 441.3L567.8 443.0L568.7 444.7L568.9 445.0L569.7 444.6L570.7 444.1L571.7 443.6L572.7 443.2L573.6 442.7L574.2 442.4L574.6 442.0L575.6 441.1L576.6 440.3L577.5 439.4L578.5 438.5L579.5 437.6L580.5 436.7L580.7 436.5L581.5 436.6L582.4 436.7L583.4 436.9L584.4 437.0L585.4 437.1L585.9 437.2L586.3 437.7L587.3 439.0L588.3 440.2L588.5 440.4L589.3 439.8L590.3 439.1L591.2 438.4L592.2 437.7L593.2 436.9L593.8 436.5L594.2 437.1L595.1 438.8L595.7 439.8L596.1 439.7L597.1 439.6L598.1 439.4L599.1 439.3L600.0 439.1L600.3 439.1L601.0 438.7L602.0 438.3L603.0 437.8L603.9 437.3L604.9 436.8L605.5 436.5L605.9 436.4L606.9 436.2L607.9 436.0L608.8 435.8L609.8 435.6L610.8 435.5L611.8 435.3L612.1 435.2L612.8 435.4L613.7 435.7L614.7 436.1L615.7 436.4L616.0 436.5L616.7 437.0L617.6 437.7L618.6 438.5L619.6 439.2L620.6 439.9L621.2 440.4L621.6 440.4L622.5 440.5L623.5 440.6L624.5 440.7L625.5 440.9L626.4 441.0L627.4 441.1L627.8 441.1L628.4 441.2L629.4 441.3L630.4 441.5L631.3 441.6L631.7 441.7L632.3 441.1L633.3 440.1L634.3 439.1L635.2 438.2L635.6 437.8L636.2 437.2L637.2 436.2L637.6 435.8L638.2 436.8L639.2 438.5L639.5 439.1L640.1 439.2L641.1 439.3L642.1 439.4L643.1 439.6L644.0 439.7L644.7 439.8L645.0 439.9L646.0 440.1L647.0 440.4L648.0 440.6L648.9 440.9L649.9 441.1L650.5 441.3L650.9 441.3L651.9 441.3L652.8 441.3L653.8 441.3L654.8 441.3L655.8 441.3L656.8 441.3L657.7 441.3L658.7 441.3L659.7 441.3L660.7 441.3L661.6 441.3L662.6 441.3L663.6 441.3L663.6 441.3L664.6 441.0L665.6 440.6L666.5 440.3L667.5 439.9L668.5 439.6L668.8 439.5L669.5 439.7L670.5 440.0L671.4 440.2L672.4 440.5L673.4 440.8L674.4 441.0L675.3 441.3L675.3 441.3L676.3 440.6L677.3 439.8L678.3 439.1L679.3 438.4L680.2 437.7L681.2 437.0L681.9 436.5L682.2 436.7L683.2 437.6L684.1 438.4L685.1 439.3L686.1 440.1L687.1 441.0L688.1 441.8L688.4 442.1L689.0 443.0L690.0 444.4L691.0 445.8L692.0 447.1L692.3 447.6L692.9 446.3L693.6 445.0L693.9 445.3L694.9 446.3L694.9 446.3L695.9 446.0L696.9 445.7L697.8 445.4L698.8 445.2L699.8 444.9L700.8 444.6L701.7 444.3L702.7 444.0L702.8 444.0L703.7 443.9L704.7 443.7L705.7 443.6L706.6 443.4L707.6 443.3L708.6 443.1L709.6 443.0L710.5 442.8L711.5 442.7L711.9 442.6L712.5 442.1L713.5 441.4L714.5 440.6L715.4 439.9L716.4 439.1L717.2 438.5L717.4 438.7L718.4 439.7L719.4 440.7L719.8 441.1L720.3 441.0L721.3 440.8L722.3 440.7L723.3 440.5L723.7 440.4L724.2 439.7L725.2 438.4L725.7 437.8L726.2 438.6L727.0 439.8L727.2 439.4L728.2 437.4L728.9 435.8L729.1 436.2L730.1 437.7L730.2 437.8L731.1 438.1L732.1 438.5L733.0 438.9L734.0 439.2L735.0 439.6L735.5 439.8L736.0 440.0L737.0 440.4L737.9 440.8L738.9 441.2L739.9 441.6L740.9 441.9L741.8 442.3L742.0 442.4L742.8 442.1L743.8 441.8L744.8 441.5L745.8 441.1L745.9 441.1L746.7 440.6L747.7 440.1L748.7 439.5L749.7 439.0L750.6 438.4L751.6 437.9L752.5 437.4L752.6 437.5L753.6 438.2L754.6 438.9L755.5 439.6L756.5 440.3L757.5 441.0L758.5 441.7L759.0 442.1L759.5 442.0L760.4 441.7L761.4 441.5L762.4 441.2L762.9 441.1L763.4 440.7L764.3 440.0L765.3 439.2L766.3 438.5L767.3 437.7L768.3 436.9L768.8 436.5L769.2 437.8L770.1 440.4L770.2 440.4L771.2 440.2L772.2 440.1L773.1 439.9L774.1 439.8L775.1 439.6L776.0 439.5L776.1 439.5L777.1 439.5L778.0 439.5L779.0 439.5L780.0 439.5L781.0 439.5L781.2 439.5L781.9 439.9L782.9 440.4L783.9 440.9L784.9 441.3L785.9 441.8L786.4 442.1L786.8 442.0L787.8 441.6L788.8 441.3L789.8 441.0L790.7 440.7L791.7 440.3L792.7 440.0L793.7 439.7L794.3 439.5L794.7 439.5L795.6 439.6L796.6 439.7L797.6 439.8L798.6 439.9L799.5 440.0L799.5 440.0L800.5 440.4L801.5 440.8L802.5 441.2L803.5 441.6L804.4 442.0L804.7 442.1L805.4 441.8L806.4 441.4L807.4 440.9L808.4 440.5L809.3 440.1L810.0 439.8L810.3 439.9L811.3 440.2L812.3 440.4L813.2 440.7L814.2 441.0L815.2 441.2L815.5 441.3L816.2 441.3L817.2 441.3L818.1 441.3L819.1 441.3L820.1 441.3L821.1 441.3L822.0 441.3L823.0 441.3L823.3 441.3L824.0 441.7L825.0 442.2L826.0 442.8L826.9 443.4L827.9 443.9L828.6 444.3L828.9 444.4L829.9 444.9L830.8 445.5L831.8 446.0L832.5 446.3L832.8 446.3L833.8 446.3L834.8 446.3L835.7 446.3L836.4 446.3L836.7 446.0L837.7 445.0L838.7 444.0L839.6 443.1L840.3 442.4L840.6 442.0L841.6 440.8L842.6 439.5L843.6 438.3L844.3 437.4L844.5 437.5L845.5 438.0L846.5 438.6L847.5 439.1L847.5 439.1L848.4 440.5L849.4 442.0L849.5 442.1L850.4 440.9L851.4 439.6L852.4 438.3L853.3 437.0L854.3 435.7L854.7 435.2L855.3 434.6L856.0 433.9L856.3 434.2L857.2 435.1L858.0 435.8L858.2 435.9L859.2 436.3L860.2 436.7L861.2 437.1L861.3 437.2L862.1 439.2L863.1 441.5L863.2 441.7L864.1 440.4L864.5 439.8L865.1 440.0L866.1 440.4L867.0 440.8L867.8 441.1L868.0 441.0L869.0 440.6L870.0 440.1L870.9 439.6L871.9 439.2L872.9 438.7L873.0 438.7L873.9 438.5L874.9 438.2L875.8 437.9L876.8 437.6L877.6 437.4L877.8 437.5L878.8 437.8L879.7 438.2L880.7 438.6L881.7 438.9L882.2 439.1L882.7 439.5L883.7 440.2L884.6 441.0L885.6 441.7L886.1 442.1L886.6 442.1L887.6 442.1L888.5 442.1L889.5 442.1L890.5 442.1L891.5 442.1L892.5 442.1L892.6 442.1L893.4 441.6L894.4 441.1L895.4 440.6L896.4 440.1L896.5 440.0L897.3 439.3L898.3 438.5L899.2 437.8L899.3 437.9L900.3 439.2L900.5 439.5L901.3 439.4L902.2 439.2L903.2 439.1L904.2 438.9L905.2 438.8L906.1 438.6L907.0 438.5L907.1 438.5L908.1 438.9L909.1 439.3L910.1 439.6L911.0 440.0L912.0 440.3L912.2 440.4L913.0 440.4L914.0 440.4L915.0 440.4L915.9 440.4L916.9 440.4L917.9 440.4L918.8 440.4L918.9 440.4L919.8 440.5L920.8 440.6L921.8 440.7L922.8 440.8L923.8 440.8L924.7 440.9L925.7 441.0L926.6 441.1L926.7 441.1L927.7 441.1L928.6 441.1L929.6 441.2L930.6 441.2L931.6 441.2L932.6 441.2L933.5 441.3L934.5 441.3L935.5 441.3L935.8 441.3L936.5 441.1L937.4 440.7L938.4 440.4L939.4 440.1L940.4 439.7L941.0 439.5L941.4 439.4L942.3 439.2L943.3 438.9L944.3 438.7L945.3 438.4L946.2 438.2L946.2 438.2L947.2 438.4L948.2 438.7L949.2 438.9L950.1 439.1L950.2 439.2L951.1 440.4L952.1 441.6L953.1 442.8L954.1 444.0L954.1 444.0L955.0 445.2L956.0 446.3L956.0 446.3L957.0 445.9L958.0 445.6L958.0 445.6L959.0 445.3L959.9 445.0L960.9 444.6L961.9 444.3L961.9 444.3L962.9 443.7L963.9 443.1L964.8 442.5L965.8 441.9L966.8 441.3L967.1 441.1L967.8 440.9L968.7 440.5L969.7 440.2L970.7 439.8L971.7 439.5L971.7 439.5L972.7 439.6L973.6 439.8L974.6 439.9L975.6 440.0L976.6 440.1L977.5 440.3L978.5 440.4L978.5 440.4L979.5 439.7L980.5 439.0L981.1 438.5L981.5 438.4L982.4 438.1L983.4 437.7L984.4 437.4L984.4 437.4L985.4 439.2L985.7 439.8L986.3 439.7L987.3 439.7L988.3 439.6L989.0 439.5L989.3 439.3L990.3 438.8L991.2 438.2L992.2 437.6L993.2 437.1L994.2 436.5L994.2 436.5L995.1 436.3L996.1 436.1L997.1 435.9L998.1 435.7L999.1 435.5L1000.0 435.3L1000.7 435.2L1001.0 435.3L1002.0 435.6L1003.0 436.0L1004.0 436.3L1004.6 436.5L1004.9 436.7L1005.9 437.3L1006.9 438.0L1007.9 438.6L1008.6 439.1L1008.8 439.1L1009.8 438.9L1010.8 438.7L1011.8 438.6L1012.8 438.4L1013.7 438.2L1013.8 438.2L1014.7 438.4L1015.7 438.6L1016.7 438.9L1017.6 439.1L1017.7 439.1L1018.6 439.5L1019.6 439.9L1020.6 440.3L1021.6 440.7L1022.5 441.1L1022.9 441.3L1023.5 440.9L1024.5 440.2L1025.5 439.5L1026.4 438.8L1026.9 438.5L1027.4 438.2L1028.4 437.7L1029.4 437.2L1030.4 436.7L1030.8 436.5L1031.3 436.6L1032.3 436.8L1033.3 436.9L1034.3 437.1L1035.2 437.3L1036.0 437.4L1036.2 437.5L1037.2 437.8L1038.2 438.1L1039.2 438.4L1040.1 438.8L1041.1 439.1L1041.2 439.1L1042.1 439.6L1043.1 440.2L1044.0 440.7L1045.0 441.3L1046.0 441.8L1046.5 442.1L1047.0 442.1L1048.0 442.1L1048.9 442.1L1049.9 442.1L1050.9 442.1L1051.9 442.1L1052.8 442.1L1053.8 442.1L1054.3 442.1L1054.8 441.9L1055.8 441.6L1056.8 441.3L1057.7 441.0L1058.7 440.7L1059.5 440.4L1059.7 440.4L1060.7 440.5L1061.7 440.6L1062.6 440.7L1063.6 440.8L1064.6 440.9L1065.6 441.0L1066.1 441.1L1066.5 440.7L1067.5 439.9L1068.5 439.1L1069.5 438.2L1070.0 437.8L1070.5 437.2L1071.4 436.0L1072.4 434.7L1072.6 434.5L1073.4 436.5L1073.9 437.8L1074.4 438.2L1075.3 439.1L1076.3 439.9L1077.3 440.8L1078.3 441.6L1079.2 442.4L1079.3 442.4L1080.2 443.2L1081.2 444.1L1082.2 444.9L1083.1 445.6L1083.2 445.6L1084.1 445.4L1085.1 445.3L1086.1 445.1L1087.0 445.0L1087.1 444.9L1088.1 443.4L1089.0 441.9L1089.6 441.1L1090.0 441.7L1090.9 443.0L1091.0 443.0L1092.0 442.8L1092.9 442.7L1093.9 442.5L1094.8 442.4L1094.9 442.4L1095.9 442.5L1096.9 442.6L1097.8 442.7L1098.8 442.8L1099.8 442.9L1100.8 442.9L1101.4 443.0L1101.8 442.7L1102.7 441.9L1103.7 441.2L1104.7 440.4L1105.7 439.6L1106.6 438.8L1107.6 438.0L1107.9 437.8L1108.6 438.7L1109.6 439.9L1110.5 441.1L1110.6 441.1L1111.5 440.3L1112.5 439.6L1113.5 438.9L1114.5 438.2L1115.4 437.5L1115.8 437.2L1116.4 436.9L1117.1 436.5L1117.4 436.4L1118.4 435.9L1119.4 435.4L1120.3 434.9L1121.3 434.4L1121.6 434.3L1122.3 434.6L1123.3 435.1L1124.2 435.6L1125.2 436.1L1126.2 436.5L1127.2 437.0L1128.2 437.5L1128.8 437.8L1129.1 437.8L1130.1 437.9L1131.1 438.0L1132.1 438.0L1133.0 438.1L1134.0 438.2L1134.1 438.2L1135.0 437.8L1136.0 437.4L1137.0 436.9L1137.9 436.5L1138.9 436.1L1139.9 435.7L1140.9 435.2L1141.8 434.8L1142.5 434.5"/>
<rect x="164" y="443" width="979" height="1" fill="#000"/>
</g>
<g fill="#000" shape-rendering="crispEdges"><rect x="164" y="345" width="979" height="1"/><rect x="164" y="541" width="979" height="1"/><rect x="164" y="345" width="1" height="197"/><rect x="1142" y="345" width="1" height="197"/></g>
<text x="164.0" y="557" text-anchor="middle" textLength="7.20" lengthAdjust="spacingAndGlyphs">0</text>
<text x="327.0" y="557" text-anchor="middle" textLength="21.60" lengthAdjust="spacingAndGlyphs">500</text>
<text x="490.0" y="557" text-anchor="middle" textLength="28.80" lengthAdjust="spacingAndGlyphs">1000</text>
<text x="653.0" y="557" text-anchor="middle" textLength="28.80" lengthAdjust="spacingAndGlyphs">1500</text>
<text x="816.0" y="557" text-anchor="middle" textLength="28.80" lengthAdjust="spacingAndGlyphs">2000</text>
<text x="979.0" y="557" text-anchor="middle" textLength="28.80" lengthAdjust="spacingAndGlyphs">2500</text>
<text x="1142.0" y="557" text-anchor="middle" textLength="28.80" lengthAdjust="spacingAndGlyphs">3000</text>
<text x="159" y="349.5" text-anchor="end">4</text>
<text x="160" y="398.5" text-anchor="end">2</text>
<text x="159" y="447.5" text-anchor="end">0</text>
<text x="160" y="496.5" text-anchor="end">2</text>
<rect x="149" y="493" width="3" height="1" fill="#000" shape-rendering="crispEdges"/>
<text x="159" y="545.5" text-anchor="end">4</text>
<rect x="149" y="542" width="3" height="1" fill="#000" shape-rendering="crispEdges"/>
<text x="652" y="41" text-anchor="middle" textLength="336.5" lengthAdjust="spacingAndGlyphs">(a)  Tracking performance with the proposed nonlinear filter</text>
<text x="652" y="280" text-anchor="middle" textLength="95.5" lengthAdjust="spacingAndGlyphs">Number of steps</text>
<text x="653" y="335" text-anchor="middle" textLength="298.5" lengthAdjust="spacingAndGlyphs">(b)  Tracking performance without the nonlinear filter</text>
<text x="652" y="574" text-anchor="middle" textLength="95.5" lengthAdjust="spacingAndGlyphs">Number of steps</text>
<g shape-rendering="crispEdges">
<rect x="1016" y="247" width="87" height="99" fill="#000"/><rect x="1017" y="248" width="85" height="97" fill="#fff"/>
<rect x="1024" y="260" width="41" height="1" fill="#f00"/>
<rect x="1024" y="285" width="41" height="1" fill="#00f"/>
<rect x="1024" y="310" width="41" height="1" fill="#0f0"/>
<rect x="1024" y="331" width="41" height="1" fill="#000"/>
</g>
<text x="1069.5" y="267" textLength="20.5" lengthAdjust="spacingAndGlyphs">y(k)</text>
<text x="1069.5" y="289">y</text><text x="1075.5" y="294" font-size="11.5">a</text><text x="1082" y="289" textLength="14.5" lengthAdjust="spacingAndGlyphs">(k)</text>
<text x="1069.5" y="316" textLength="27.5" lengthAdjust="spacingAndGlyphs">Error</text>
<text x="1068.5" y="337">0</text>
</svg></body></html>
